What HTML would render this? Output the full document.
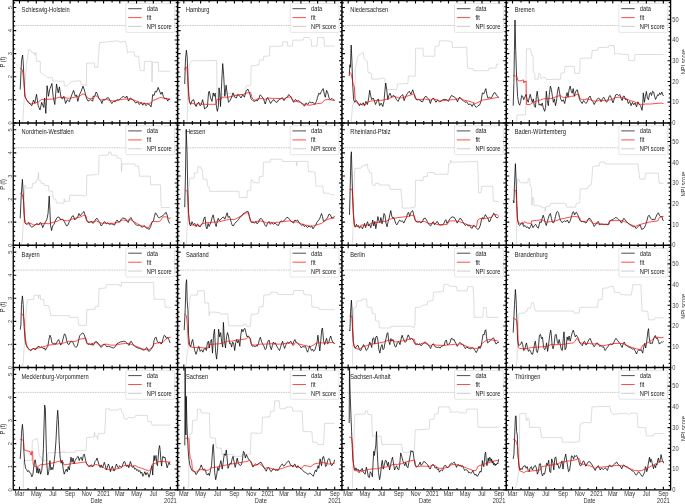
<!DOCTYPE html>
<html><head><meta charset="utf-8"><title>P(t) fits per state</title>
<style>html,body{margin:0;padding:0;background:#fff}svg{display:block}</style></head>
<body>
<svg width="685" height="504" viewBox="0 0 685 504">
<rect width="685" height="504" fill="#fff"/>
<clipPath id="c0"><rect x="13.2" y="0.6" width="164.3" height="122.3"/></clipPath>
<g clip-path="url(#c0)">
<line x1="13.2" x2="177.6" y1="25.5" y2="25.5" stroke="#999" stroke-width="0.5" stroke-dasharray="1.6,0.8"/>
<polyline points="22.7,122.2 26.3,65.6 28.7,49.4 30.9,50.2 32.1,52.8 34.3,52.8 34.8,55.4 36.0,52.8 36.5,61.3 40.3,61.3 40.3,72.4 44.6,75.0 47.1,77.5 52.6,77.9 52.6,80.9 64.2,81.3 64.2,85.7 66.8,86.1 69.3,83.5 71.9,81.3 80.4,80.9 81.2,84.7 86.4,85.2 86.7,63.0 92.9,63.0 93.0,63.0 94.7,63.0 94.7,67.3 97.8,67.3 98.5,56.2 99.5,42.6 105.8,42.1 111.8,41.4 118.6,40.9 119.5,42.1 125.4,41.4 126.6,45.1 127.6,52.8 129.7,51.6 131.4,52.3 133.9,51.6 134.8,56.2 138.7,56.2 139.4,65.6 140.4,70.7 144.2,70.7 144.5,61.3 151.9,61.3 152.0,81.8 152.4,62.2 158.3,62.2 158.7,71.2 170.1,71.2" fill="none" stroke="#c2c2c2" stroke-width="0.55" stroke-linejoin="round"/>
<polyline points="20.2,89.5 21.5,60.5 22.6,55.0 23.2,62.2 24.1,80.9 24.9,96.3 26.6,99.7 28.0,102.3 30.1,104.0 31.8,105.7 33.5,100.1 34.8,103.1 36.5,94.3 38.2,105.7 40.0,110.0 41.7,102.3 43.7,107.4 44.6,98.0 45.8,113.4 47.1,85.7 48.5,96.3 49.7,89.5 51.9,83.5 53.1,96.3 54.8,104.5 56.5,84.0 58.2,92.9 59.4,86.9 61.1,98.0 62.5,98.9 63.9,96.3 65.6,103.5 67.3,99.7 69.3,101.8 71.9,94.6 73.6,90.3 75.3,96.3 76.5,94.9 77.8,101.4 79.5,94.6 81.2,91.2 83.0,86.1 84.7,91.2 86.4,98.0 88.1,101.1 90.6,99.7 92.9,101.1 93.0,96.3 94.7,96.3 96.1,92.0 97.3,93.8 99.0,98.9 100.7,100.6 101.9,103.5 103.2,99.7 104.9,100.1 106.7,98.0 108.4,97.7 110.1,100.6 111.8,103.5 113.5,101.4 115.2,101.8 116.9,99.7 118.6,100.1 120.3,98.9 122.0,97.2 123.7,96.3 125.4,98.0 126.8,96.0 128.5,101.1 130.2,98.0 131.9,98.9 133.9,100.6 135.7,103.1 137.7,101.8 139.4,104.5 141.1,102.3 142.8,105.2 144.2,102.8 145.9,105.7 147.6,104.0 149.7,104.8 151.0,106.9 152.0,101.4 152.7,94.6 154.1,95.5 155.3,91.2 156.5,92.0 158.2,87.4 159.6,91.2 160.9,94.3 162.1,92.0 163.3,96.3 164.7,98.9 166.4,98.0 167.7,101.1 168.9,98.9 170.1,99.7" fill="none" stroke="#000" stroke-width="0.75" stroke-linejoin="round"/>
<polyline points="20.2,68.1 22.4,69.9 23.6,79.2 24.6,92.9 25.8,98.9 28.4,101.8 30.9,104.0 34.3,103.5 38.6,101.8 41.1,99.7 47.1,99.4 54.0,98.9 59.1,97.2 64.2,97.7 69.3,98.4 74.4,97.3 79.5,96.0 83.0,93.8 85.5,94.9 88.1,98.4 92.9,98.4 93.0,98.9 95.6,95.5 98.1,97.2 100.7,100.1 103.2,99.7 106.7,99.4 110.1,100.6 113.5,100.9 118.6,100.1 123.7,99.2 127.1,98.9 130.5,99.4 133.9,100.1 137.4,101.4 140.8,102.8 144.2,103.5 148.5,103.5 151.0,102.8 152.7,100.6 156.1,99.4 159.6,97.7 162.1,97.7 164.7,98.5 168.1,98.9 170.1,99.2" fill="none" stroke="#f00" stroke-width="0.7" stroke-linejoin="round"/>
<text transform="translate(21.6,12.0) scale(0.864,1)" font-size="6.6" fill="#1a1a1a" font-family="Liberation Sans, sans-serif">Schleswig-Holstein</text>
<rect x="125.8" y="3.5" width="48.8" height="28.9" rx="1.3" fill="#fff" fill-opacity="0.8" stroke="#ccc" stroke-width="0.5"/>
<line x1="128.2" x2="141.7" y1="8.7" y2="8.7" stroke="#000" stroke-width="0.7"/>
<text transform="translate(146.8,11.1) scale(0.864,1)" font-size="6.6" fill="#1a1a1a" font-family="Liberation Sans, sans-serif">data</text>
<line x1="128.2" x2="141.7" y1="17.6" y2="17.6" stroke="#f00" stroke-width="0.7"/>
<text transform="translate(146.8,20.0) scale(0.864,1)" font-size="6.6" fill="#1a1a1a" font-family="Liberation Sans, sans-serif">fit</text>
<line x1="128.2" x2="141.7" y1="26.5" y2="26.5" stroke="#bdbdbd" stroke-width="0.7"/>
<text transform="translate(146.8,28.9) scale(0.864,1)" font-size="6.6" fill="#1a1a1a" font-family="Liberation Sans, sans-serif">NPI score</text>
</g>
<clipPath id="c1"><rect x="177.6" y="0.6" width="164.3" height="122.3"/></clipPath>
<g clip-path="url(#c1)">
<line x1="177.6" x2="341.9" y1="25.5" y2="25.5" stroke="#999" stroke-width="0.5" stroke-dasharray="1.6,0.8"/>
<polyline points="187.2,122.2 187.6,91.2 189.3,64.7 191.5,60.8 216.6,60.5 217.1,98.9 221.7,98.9 221.7,94.3 233.3,93.2 235.0,94.9 245.3,94.3 246.1,86.1 250.7,85.2 251.2,65.6 256.9,65.6 257.0,64.8 259.0,64.5 259.4,60.1 263.5,60.1 263.8,56.3 269.3,56.0 269.8,46.4 282.3,46.1 282.6,41.8 287.4,41.8 287.7,46.1 292.5,46.1 292.8,40.1 303.1,40.1 303.9,37.5 309.0,37.5 311.3,40.1 311.6,46.1 317.1,46.1 317.6,37.5 323.9,37.5 324.4,46.1 334.6,46.1" fill="none" stroke="#c2c2c2" stroke-width="0.55" stroke-linejoin="round"/>
<polyline points="184.7,84.0 185.5,58.8 186.4,50.2 187.2,57.1 188.1,82.7 189.3,101.4 190.6,104.5 192.0,100.6 193.7,99.7 194.9,104.5 196.1,106.5 197.5,103.1 198.8,102.3 200.0,105.7 201.2,104.8 202.6,99.7 204.0,105.7 204.6,109.1 206.0,107.4 207.4,106.9 208.6,92.0 209.4,91.2 210.6,98.0 212.0,101.4 213.2,92.9 214.2,96.3 215.2,93.2 216.2,104.8 217.3,111.3 218.3,107.4 219.0,87.8 219.7,92.9 220.5,106.5 221.7,82.7 222.7,63.6 223.6,74.1 224.8,96.3 226.1,85.2 227.3,94.6 228.5,102.3 229.9,100.6 231.3,98.0 233.0,92.9 234.7,97.2 236.4,98.0 237.6,94.6 239.3,95.5 241.0,98.0 242.7,94.6 244.4,97.2 246.1,91.2 247.8,89.1 249.5,92.9 251.2,98.9 252.9,100.6 254.6,101.4 256.3,100.1 257.0,101.1 258.7,98.9 260.1,94.9 261.8,96.3 263.5,98.9 265.2,104.0 266.4,100.1 267.6,97.7 269.3,100.6 270.6,103.5 272.4,100.6 274.1,99.7 275.4,101.8 277.1,102.3 278.8,99.7 280.5,98.9 282.3,97.7 284.0,100.6 285.7,98.0 287.4,97.2 288.6,94.6 290.3,96.0 292.0,98.9 293.7,102.3 295.4,99.4 297.1,101.1 298.8,100.6 300.5,102.3 302.2,103.5 304.4,106.2 306.1,102.8 307.8,104.5 309.6,101.8 311.3,102.8 313.0,102.3 314.7,104.5 316.4,101.4 317.6,97.2 318.8,93.2 320.1,94.3 321.5,91.2 323.2,88.6 324.4,94.6 325.3,97.2 326.6,90.3 327.8,92.9 329.0,98.0 330.4,99.7 332.1,98.4 333.8,100.1 334.6,100.1" fill="none" stroke="#000" stroke-width="0.75" stroke-linejoin="round"/>
<polyline points="184.7,69.9 185.5,67.0 186.9,67.3 187.6,77.5 188.6,96.3 189.8,102.8 193.2,103.5 195.8,104.5 198.3,103.5 202.6,104.3 211.1,104.3 216.2,104.3 216.8,99.7 221.0,99.4 221.7,97.2 228.2,97.2 233.3,96.0 238.4,94.9 243.5,94.3 247.0,92.9 250.7,92.6 252.1,98.0 253.8,100.1 256.9,99.9 257.0,98.9 262.1,98.5 264.7,99.7 267.2,98.0 274.1,98.4 280.9,98.5 284.3,98.9 286.9,97.2 291.1,96.8 292.8,101.1 296.2,101.4 299.7,102.3 303.1,104.0 306.5,104.8 309.9,105.3 315.0,104.0 321.8,103.1 324.4,100.1 327.8,99.4 332.1,100.1 334.6,100.6" fill="none" stroke="#f00" stroke-width="0.7" stroke-linejoin="round"/>
<text transform="translate(186.0,12.0) scale(0.864,1)" font-size="6.6" fill="#1a1a1a" font-family="Liberation Sans, sans-serif">Hamburg</text>
<rect x="290.2" y="3.5" width="48.8" height="28.9" rx="1.3" fill="#fff" fill-opacity="0.8" stroke="#ccc" stroke-width="0.5"/>
<line x1="292.5" x2="306.0" y1="8.7" y2="8.7" stroke="#000" stroke-width="0.7"/>
<text transform="translate(311.1,11.1) scale(0.864,1)" font-size="6.6" fill="#1a1a1a" font-family="Liberation Sans, sans-serif">data</text>
<line x1="292.5" x2="306.0" y1="17.6" y2="17.6" stroke="#f00" stroke-width="0.7"/>
<text transform="translate(311.1,20.0) scale(0.864,1)" font-size="6.6" fill="#1a1a1a" font-family="Liberation Sans, sans-serif">fit</text>
<line x1="292.5" x2="306.0" y1="26.5" y2="26.5" stroke="#bdbdbd" stroke-width="0.7"/>
<text transform="translate(311.1,28.9) scale(0.864,1)" font-size="6.6" fill="#1a1a1a" font-family="Liberation Sans, sans-serif">NPI score</text>
</g>
<clipPath id="c2"><rect x="341.9" y="0.6" width="164.3" height="122.3"/></clipPath>
<g clip-path="url(#c2)">
<line x1="341.9" x2="506.3" y1="25.5" y2="25.5" stroke="#999" stroke-width="0.5" stroke-dasharray="1.6,0.8"/>
<polyline points="351.2,122.2 352.6,104.8 354.7,100.6 355.3,69.0 358.1,55.7 361.5,53.6 363.2,52.3 364.0,58.8 367.4,61.3 368.0,72.4 371.4,73.3 371.7,79.2 379.4,78.9 383.7,77.9 385.0,79.6 385.4,89.5 397.0,89.5 397.3,84.0 407.9,83.5 408.4,76.2 415.2,76.2 415.6,48.2 420.9,48.2 421.0,48.2 423.0,48.2 423.4,56.2 434.7,56.2 435.0,46.5 438.9,46.0 439.4,40.9 448.3,40.9 452.1,42.1 452.6,47.7 466.7,47.2 467.4,68.1 473.0,68.7 473.9,70.7 488.4,70.7 489.3,68.1 496.1,68.1 496.4,64.2 498.6,64.2" fill="none" stroke="#c2c2c2" stroke-width="0.55" stroke-linejoin="round"/>
<polyline points="349.2,75.8 349.9,64.7 350.4,67.3 351.2,45.1 351.9,60.5 352.6,82.7 353.6,99.7 354.7,102.3 356.4,100.6 358.1,103.1 359.4,105.7 360.6,103.5 361.8,104.8 363.2,102.8 364.5,105.7 365.9,101.4 367.4,104.5 368.6,98.9 369.7,90.3 370.7,95.5 371.7,99.7 373.1,98.0 374.3,100.6 375.5,104.5 376.8,101.4 378.2,98.9 379.6,105.7 381.1,103.1 382.8,106.5 384.0,101.4 385.0,89.5 385.7,83.0 386.7,89.5 387.8,99.7 388.8,95.5 390.1,93.2 391.5,97.2 393.0,95.5 394.7,96.3 396.5,99.7 398.2,101.4 399.9,97.2 401.6,95.5 402.8,94.6 404.1,100.6 405.8,96.3 407.5,93.2 409.3,91.2 411.0,94.3 412.7,89.8 414.0,93.8 415.2,98.0 416.9,100.1 418.6,99.4 420.9,100.6 421.0,101.4 422.7,101.8 424.1,98.0 425.8,96.0 427.5,98.0 429.2,99.7 430.4,103.5 431.6,99.7 433.3,98.0 434.7,100.1 436.0,102.3 437.7,99.7 439.4,101.8 441.1,101.1 442.8,99.7 444.9,99.4 446.6,99.7 448.3,101.4 450.0,98.0 451.4,95.5 453.1,96.3 454.8,97.2 456.2,98.9 457.5,101.8 458.9,98.0 459.9,97.2 461.6,99.4 463.3,100.6 465.0,102.3 466.7,101.8 468.4,104.5 470.5,104.0 472.2,106.5 473.6,103.5 474.9,105.7 476.3,107.4 478.0,105.7 479.7,104.8 481.1,101.1 482.4,92.9 483.8,93.8 484.8,91.2 485.8,88.6 486.9,94.6 487.9,98.4 489.3,97.2 491.0,98.4 492.3,96.3 493.7,93.2 495.1,92.6 496.4,94.9 497.8,96.6 498.6,97.7" fill="none" stroke="#000" stroke-width="0.75" stroke-linejoin="round"/>
<polyline points="349.2,71.6 350.9,73.3 352.1,78.4 353.3,84.4 354.3,86.4 355.0,98.0 356.0,101.4 358.1,104.0 361.5,104.8 365.7,104.8 368.3,101.8 370.9,101.1 375.1,100.6 383.7,100.1 387.9,98.9 392.2,97.2 394.7,96.3 398.2,98.0 402.4,97.7 406.7,96.3 411.0,94.9 413.5,93.8 414.7,94.9 416.1,98.9 418.6,99.7 420.9,99.7 421.0,99.7 424.4,98.9 427.8,99.7 430.4,100.1 432.9,98.9 436.4,99.7 439.8,101.1 443.2,100.6 448.3,100.1 453.4,99.7 457.7,98.9 460.2,98.4 463.7,100.1 467.9,100.9 472.2,102.3 475.6,103.5 479.0,101.8 482.4,100.1 487.5,99.4 492.7,98.4 496.1,97.7 498.6,97.2" fill="none" stroke="#f00" stroke-width="0.7" stroke-linejoin="round"/>
<text transform="translate(350.3,12.0) scale(0.864,1)" font-size="6.6" fill="#1a1a1a" font-family="Liberation Sans, sans-serif">Niedersachsen</text>
<rect x="454.5" y="3.5" width="48.8" height="28.9" rx="1.3" fill="#fff" fill-opacity="0.8" stroke="#ccc" stroke-width="0.5"/>
<line x1="456.8" x2="470.3" y1="8.7" y2="8.7" stroke="#000" stroke-width="0.7"/>
<text transform="translate(475.4,11.1) scale(0.864,1)" font-size="6.6" fill="#1a1a1a" font-family="Liberation Sans, sans-serif">data</text>
<line x1="456.8" x2="470.3" y1="17.6" y2="17.6" stroke="#f00" stroke-width="0.7"/>
<text transform="translate(475.4,20.0) scale(0.864,1)" font-size="6.6" fill="#1a1a1a" font-family="Liberation Sans, sans-serif">fit</text>
<line x1="456.8" x2="470.3" y1="26.5" y2="26.5" stroke="#bdbdbd" stroke-width="0.7"/>
<text transform="translate(475.4,28.9) scale(0.864,1)" font-size="6.6" fill="#1a1a1a" font-family="Liberation Sans, sans-serif">NPI score</text>
</g>
<clipPath id="c3"><rect x="506.3" y="0.6" width="164.3" height="122.3"/></clipPath>
<g clip-path="url(#c3)">
<line x1="506.3" x2="670.6" y1="25.5" y2="25.5" stroke="#999" stroke-width="0.5" stroke-dasharray="1.6,0.8"/>
<polyline points="516.6,122.2 517.1,115.1 525.6,114.7 526.5,48.9 530.7,48.9 531.6,55.0 533.0,55.4 533.3,72.4 534.7,73.3 535.0,79.2 538.1,79.2 538.8,73.3 540.1,73.8 541.0,78.9 542.7,77.2 545.6,77.5 546.6,79.6 560.6,79.2 560.9,73.3 564.4,72.8 564.9,66.4 574.3,66.4 574.6,73.3 579.7,73.3 580.2,58.4 585.9,58.1 586.0,58.1 591.6,58.1 592.1,50.6 597.9,50.2 598.3,47.7 608.5,47.2 609.0,45.5 614.2,45.5 614.7,54.0 619.3,53.6 622.7,54.5 628.3,54.5 628.7,60.5 634.6,60.5 635.1,54.5 663.6,54.5" fill="none" stroke="#c2c2c2" stroke-width="0.55" stroke-linejoin="round"/>
<polyline points="513.2,105.7 513.9,82.7 514.4,50.2 515.0,20.0 515.7,50.2 516.6,77.5 517.6,96.3 518.6,103.1 519.7,105.2 520.7,101.4 521.7,95.5 522.7,96.3 523.7,99.7 524.8,97.2 526.1,94.3 527.2,99.7 528.2,102.3 529.2,98.0 530.2,94.3 531.3,98.9 532.3,102.3 533.3,98.9 534.3,105.7 535.4,107.4 536.4,96.3 537.2,91.2 538.1,98.0 539.1,105.2 540.1,104.0 541.2,105.7 542.2,103.1 543.2,107.4 544.6,111.3 545.6,107.4 546.3,91.2 547.3,100.6 548.3,105.7 549.3,94.6 550.4,86.1 551.4,89.5 552.4,96.3 553.4,102.3 554.5,98.9 555.5,105.7 556.5,101.4 557.5,91.2 558.6,86.9 559.6,92.9 560.6,98.9 562.0,101.4 563.3,99.7 564.7,103.5 566.1,96.3 567.1,92.6 568.1,97.2 569.1,89.5 570.2,86.1 571.2,91.2 572.2,93.2 573.2,88.6 574.3,96.3 575.3,92.9 576.3,90.3 577.3,89.8 578.4,94.6 579.4,98.9 580.7,101.4 582.1,103.5 583.5,100.6 584.8,102.3 586.0,103.5 587.4,101.4 588.7,97.7 590.1,96.0 591.5,100.1 592.8,101.4 594.2,104.5 595.6,101.8 596.9,99.7 598.3,98.0 599.7,98.9 601.0,101.8 602.4,98.9 603.7,97.2 605.1,99.7 606.5,102.3 607.8,100.6 609.2,96.3 610.2,95.5 611.6,98.9 613.0,102.8 614.3,98.9 615.7,94.9 617.1,94.3 618.4,95.5 619.8,94.6 621.2,98.9 622.2,100.6 623.2,96.3 624.2,96.0 625.6,99.7 627.0,98.9 628.3,103.5 629.7,101.4 631.1,105.7 632.4,102.3 633.8,104.8 635.1,102.8 636.5,106.9 637.9,101.8 639.2,104.5 640.6,105.7 642.0,110.3 642.7,104.8 643.3,92.9 644.4,102.3 645.4,96.3 646.4,91.5 647.4,98.0 648.5,99.7 649.5,93.8 650.5,92.6 651.5,95.5 652.6,91.2 653.6,92.0 654.6,96.3 655.6,99.4 656.6,97.2 657.7,94.6 658.7,95.5 659.7,92.9 660.7,94.6 661.8,92.0 662.8,94.9 663.6,96.0" fill="none" stroke="#000" stroke-width="0.75" stroke-linejoin="round"/>
<polyline points="513.2,75.0 515.4,76.2 517.1,76.7 517.6,80.1 519.7,80.9 522.2,80.6 523.1,79.6 523.9,83.0 524.4,80.9 525.1,81.8 526.1,80.9 526.5,104.5 529.9,104.5 533.3,102.3 536.7,101.1 540.1,100.1 543.5,98.9 547.0,98.4 552.1,98.4 557.2,96.3 560.6,95.5 563.2,97.7 567.4,97.2 571.7,96.3 574.3,96.0 576.8,94.3 579.0,94.6 580.2,98.9 582.8,99.7 585.9,99.7 586.0,98.9 589.4,99.4 592.8,100.6 596.2,101.4 599.7,100.1 603.1,100.6 608.2,100.1 611.6,99.7 615.0,97.7 619.3,97.2 622.7,98.0 626.1,98.9 630.4,100.6 634.6,101.8 638.9,104.0 642.3,104.5 645.7,104.0 650.8,104.0 656.0,103.5 661.1,103.1 663.6,103.5" fill="none" stroke="#f00" stroke-width="0.7" stroke-linejoin="round"/>
<text transform="translate(514.7,12.0) scale(0.864,1)" font-size="6.6" fill="#1a1a1a" font-family="Liberation Sans, sans-serif">Bremen</text>
<rect x="618.9" y="3.5" width="48.8" height="28.9" rx="1.3" fill="#fff" fill-opacity="0.8" stroke="#ccc" stroke-width="0.5"/>
<line x1="621.2" x2="634.7" y1="8.7" y2="8.7" stroke="#000" stroke-width="0.7"/>
<text transform="translate(639.8,11.1) scale(0.864,1)" font-size="6.6" fill="#1a1a1a" font-family="Liberation Sans, sans-serif">data</text>
<line x1="621.2" x2="634.7" y1="17.6" y2="17.6" stroke="#f00" stroke-width="0.7"/>
<text transform="translate(639.8,20.0) scale(0.864,1)" font-size="6.6" fill="#1a1a1a" font-family="Liberation Sans, sans-serif">fit</text>
<line x1="621.2" x2="634.7" y1="26.5" y2="26.5" stroke="#bdbdbd" stroke-width="0.7"/>
<text transform="translate(639.8,28.9) scale(0.864,1)" font-size="6.6" fill="#1a1a1a" font-family="Liberation Sans, sans-serif">NPI score</text>
</g>
<clipPath id="c4"><rect x="13.2" y="122.9" width="164.3" height="122.3"/></clipPath>
<g clip-path="url(#c4)">
<line x1="13.2" x2="177.6" y1="147.8" y2="147.8" stroke="#999" stroke-width="0.5" stroke-dasharray="1.6,0.8"/>
<polyline points="21.2,244.2 22.4,240.5 23.6,213.2 24.9,185.0 25.8,187.9 32.1,187.9 32.6,183.3 36.0,182.8 36.5,179.9 38.1,179.1 38.4,172.6 38.8,180.4 40.6,180.8 41.1,183.3 44.1,183.8 44.6,185.5 48.5,185.5 48.8,191.0 52.6,191.3 53.1,198.7 55.7,199.2 56.5,202.9 63.9,203.3 64.2,198.7 65.0,201.6 69.3,201.2 69.7,195.3 82.1,195.3 83.8,196.1 86.4,195.3 86.9,175.3 92.9,174.8 93.0,175.0 98.6,174.2 99.1,155.4 108.4,155.1 108.9,152.0 110.9,152.0 111.4,155.1 116.9,155.4 117.2,158.0 121.2,158.5 121.5,171.6 122.0,163.9 134.8,163.9 135.3,166.0 138.7,166.0 139.4,176.2 150.2,176.2 150.7,184.8 160.4,184.8 161.2,207.5 170.1,207.5" fill="none" stroke="#c2c2c2" stroke-width="0.55" stroke-linejoin="round"/>
<polyline points="20.2,218.3 21.2,196.1 22.4,179.4 23.2,192.7 24.1,213.2 24.9,222.6 26.3,224.3 27.7,223.1 29.0,222.6 30.4,226.0 31.8,227.2 33.1,226.5 34.5,225.5 35.9,224.3 37.2,223.4 38.6,225.1 40.0,222.6 41.3,223.1 42.7,227.7 44.1,224.3 45.4,222.1 46.8,219.7 48.1,213.2 49.2,196.1 49.9,209.8 50.5,225.1 51.6,230.6 52.6,226.0 54.0,224.3 55.3,220.9 56.7,218.0 58.0,216.9 59.4,217.5 60.8,220.0 62.5,219.2 63.9,220.9 65.2,223.4 66.6,226.0 67.9,225.1 69.3,221.7 70.7,219.2 72.0,216.3 73.4,215.8 74.8,220.0 76.1,218.3 77.5,217.5 78.9,213.5 80.2,215.8 81.6,214.0 83.0,212.3 84.0,211.5 85.0,214.9 86.4,220.0 87.7,222.1 89.1,222.6 90.5,221.7 91.8,221.4 93.0,223.4 94.4,221.7 95.7,219.2 97.1,218.3 98.5,220.9 99.8,222.6 101.2,226.0 102.6,224.3 103.9,222.1 104.9,221.7 106.3,223.8 107.7,223.1 109.4,224.3 111.1,223.8 112.8,224.3 114.5,225.1 115.9,221.7 117.2,220.0 118.6,222.1 120.0,221.7 121.3,219.2 122.7,218.0 124.1,218.3 125.4,218.6 126.8,220.9 128.2,222.6 129.5,219.2 130.9,217.5 132.2,220.0 133.6,221.7 135.0,223.8 136.3,224.8 137.7,225.5 139.1,224.8 140.8,226.5 142.5,227.2 144.2,225.5 145.9,227.7 147.6,228.6 149.3,229.4 150.7,226.5 152.0,221.7 153.4,220.9 154.4,216.6 155.4,212.8 156.5,214.0 157.8,216.6 159.2,218.0 160.6,216.9 161.9,216.3 163.3,215.2 164.7,214.0 166.0,212.3 167.1,214.9 168.1,220.0 169.1,222.6 170.1,223.4" fill="none" stroke="#000" stroke-width="0.75" stroke-linejoin="round"/>
<polyline points="20.2,193.1 22.4,194.8 23.6,201.2 24.6,218.3 25.3,223.4 27.5,224.3 30.1,223.1 33.5,224.8 38.6,224.3 43.7,223.4 48.8,223.8 54.0,222.1 58.2,220.9 60.8,219.2 64.2,220.4 67.6,220.9 71.9,219.2 76.1,218.0 80.4,216.9 83.8,215.2 86.0,215.8 87.2,221.4 89.8,222.1 92.9,222.1 93.0,221.7 96.4,220.9 99.8,222.6 102.4,223.4 104.9,223.1 110.1,223.4 115.2,223.1 119.5,221.7 122.0,220.0 127.1,220.4 130.5,219.7 133.9,221.7 137.4,223.8 140.8,225.5 144.2,226.5 148.5,227.7 151.0,223.4 153.6,221.4 157.8,221.7 160.4,220.9 163.0,216.9 166.4,216.9 168.9,218.3 170.6,218.0" fill="none" stroke="#f00" stroke-width="0.7" stroke-linejoin="round"/>
<text transform="translate(21.6,134.3) scale(0.864,1)" font-size="6.6" fill="#1a1a1a" font-family="Liberation Sans, sans-serif">Nordrhein-Westfalen</text>
<rect x="125.8" y="125.8" width="48.8" height="28.9" rx="1.3" fill="#fff" fill-opacity="0.8" stroke="#ccc" stroke-width="0.5"/>
<line x1="128.2" x2="141.7" y1="130.9" y2="130.9" stroke="#000" stroke-width="0.7"/>
<text transform="translate(146.8,133.3) scale(0.864,1)" font-size="6.6" fill="#1a1a1a" font-family="Liberation Sans, sans-serif">data</text>
<line x1="128.2" x2="141.7" y1="139.9" y2="139.9" stroke="#f00" stroke-width="0.7"/>
<text transform="translate(146.8,142.3) scale(0.864,1)" font-size="6.6" fill="#1a1a1a" font-family="Liberation Sans, sans-serif">fit</text>
<line x1="128.2" x2="141.7" y1="148.8" y2="148.8" stroke="#bdbdbd" stroke-width="0.7"/>
<text transform="translate(146.8,151.2) scale(0.864,1)" font-size="6.6" fill="#1a1a1a" font-family="Liberation Sans, sans-serif">NPI score</text>
</g>
<clipPath id="c5"><rect x="177.6" y="122.9" width="164.3" height="122.3"/></clipPath>
<g clip-path="url(#c5)">
<line x1="177.6" x2="341.9" y1="147.8" y2="147.8" stroke="#999" stroke-width="0.5" stroke-dasharray="1.6,0.8"/>
<polyline points="186.4,244.2 187.6,218.3 188.9,187.6 189.8,178.2 194.1,178.2 194.4,173.1 197.5,172.6 197.8,166.8 200.9,166.8 201.4,169.7 202.6,170.2 202.9,179.1 206.9,179.4 207.7,185.9 209.1,187.6 209.8,191.3 238.8,191.3 239.3,197.5 247.0,197.5 247.3,190.7 250.7,190.1 251.2,179.9 252.9,180.4 253.4,182.8 256.9,182.5 257.0,183.1 259.0,182.7 259.4,176.8 263.1,176.2 263.5,162.2 270.3,161.9 270.6,159.2 281.7,159.2 282.3,161.4 296.2,161.4 296.6,165.7 297.3,161.4 307.8,161.4 308.5,171.6 315.0,172.1 315.9,186.1 322.7,186.1 323.5,193.0 328.7,193.3 330.4,194.3 334.6,195.0" fill="none" stroke="#c2c2c2" stroke-width="0.55" stroke-linejoin="round"/>
<polyline points="184.7,207.2 185.4,179.1 186.2,129.6 187.1,153.5 187.7,187.6 188.6,213.2 189.6,224.3 190.6,226.0 192.0,221.7 193.4,224.8 194.7,223.4 196.1,226.5 197.5,223.8 198.8,226.0 200.2,226.8 201.6,224.3 202.9,222.6 204.0,218.3 205.0,216.9 206.0,226.8 207.0,228.9 208.1,223.4 209.1,226.5 210.1,224.3 211.1,221.7 212.1,217.5 213.2,214.9 214.2,220.0 215.2,223.4 216.2,226.5 217.3,220.9 218.3,218.3 219.3,220.9 220.7,219.2 222.0,218.0 223.4,216.9 224.8,219.2 226.1,215.8 227.2,212.8 228.2,217.5 229.2,216.3 230.2,218.3 231.3,222.6 232.3,225.5 233.3,226.0 234.7,223.4 236.0,222.1 237.4,220.9 238.8,219.2 240.1,216.9 241.5,216.3 242.9,214.0 244.2,213.2 245.6,212.3 247.0,211.5 248.3,211.8 249.3,216.6 250.4,220.9 251.7,222.6 253.1,222.1 254.5,223.1 255.8,221.4 257.0,223.8 258.4,222.6 259.7,219.2 261.1,218.3 262.5,220.0 263.8,222.6 265.2,225.5 266.2,226.5 267.6,223.4 268.9,221.7 270.3,224.3 271.7,222.6 273.4,224.3 275.1,223.1 276.8,224.8 278.5,225.5 279.9,222.1 281.2,220.9 282.6,221.7 284.0,220.9 285.3,219.2 286.7,217.5 288.1,217.5 289.4,219.2 290.8,220.9 292.1,222.1 293.5,223.1 294.9,220.0 296.2,220.9 297.6,220.0 299.0,222.6 300.3,223.8 301.7,225.5 303.1,224.3 304.4,226.5 305.8,225.5 307.5,227.7 308.9,226.0 310.2,227.2 311.6,226.0 313.0,228.9 314.3,226.8 315.7,225.5 316.7,222.6 318.1,220.9 319.4,219.2 320.5,216.6 321.5,213.5 322.5,216.6 323.5,221.7 324.9,220.9 326.3,219.2 327.6,217.5 329.0,214.0 330.4,214.9 331.7,218.0 333.1,217.5 334.6,216.3" fill="none" stroke="#000" stroke-width="0.75" stroke-linejoin="round"/>
<polyline points="185.2,190.1 187.2,191.0 187.7,197.8 188.4,213.2 189.3,221.7 191.5,224.8 194.9,225.5 199.2,226.0 202.6,223.8 206.9,222.6 212.8,222.2 219.7,221.7 224.8,220.4 229.9,219.2 234.2,219.7 238.4,217.5 242.7,214.9 246.1,212.8 248.7,213.2 250.0,218.3 251.2,221.7 253.8,222.1 256.9,221.7 257.0,221.4 260.4,220.9 263.8,221.7 266.4,223.1 268.9,222.1 274.1,222.6 279.2,222.1 284.3,221.4 289.4,220.9 293.7,221.7 297.1,222.1 301.4,223.8 305.6,225.1 309.9,226.0 313.3,226.0 316.7,224.8 321.8,223.4 324.4,220.9 327.8,219.2 332.1,218.3 334.6,218.0" fill="none" stroke="#f00" stroke-width="0.7" stroke-linejoin="round"/>
<text transform="translate(186.0,134.3) scale(0.864,1)" font-size="6.6" fill="#1a1a1a" font-family="Liberation Sans, sans-serif">Hessen</text>
<rect x="290.2" y="125.8" width="48.8" height="28.9" rx="1.3" fill="#fff" fill-opacity="0.8" stroke="#ccc" stroke-width="0.5"/>
<line x1="292.5" x2="306.0" y1="130.9" y2="130.9" stroke="#000" stroke-width="0.7"/>
<text transform="translate(311.1,133.3) scale(0.864,1)" font-size="6.6" fill="#1a1a1a" font-family="Liberation Sans, sans-serif">data</text>
<line x1="292.5" x2="306.0" y1="139.9" y2="139.9" stroke="#f00" stroke-width="0.7"/>
<text transform="translate(311.1,142.3) scale(0.864,1)" font-size="6.6" fill="#1a1a1a" font-family="Liberation Sans, sans-serif">fit</text>
<line x1="292.5" x2="306.0" y1="148.8" y2="148.8" stroke="#bdbdbd" stroke-width="0.7"/>
<text transform="translate(311.1,151.2) scale(0.864,1)" font-size="6.6" fill="#1a1a1a" font-family="Liberation Sans, sans-serif">NPI score</text>
</g>
<clipPath id="c6"><rect x="341.9" y="122.9" width="164.3" height="122.3"/></clipPath>
<g clip-path="url(#c6)">
<line x1="341.9" x2="506.3" y1="147.8" y2="147.8" stroke="#999" stroke-width="0.5" stroke-dasharray="1.6,0.8"/>
<polyline points="352.1,244.2 352.9,233.7 353.8,196.1 354.7,168.5 361.5,168.0 362.3,165.8 365.7,165.4 366.3,164.0 367.4,164.0 368.0,169.7 369.2,170.2 369.7,172.6 371.7,172.6 372.2,185.0 375.1,185.5 375.6,183.3 378.9,183.3 379.4,185.0 389.6,185.0 390.1,189.3 400.7,189.3 401.6,195.3 402.4,208.1 409.3,208.1 414.4,207.2 415.2,206.7 415.6,180.4 420.9,180.1 421.0,181.0 423.0,180.7 423.4,176.8 427.5,176.2 427.8,172.5 434.3,172.5 434.7,174.2 448.0,174.2 448.6,163.9 450.3,163.6 450.7,160.2 451.4,162.2 463.7,161.9 477.3,161.4 478.2,174.2 478.5,192.6 481.1,192.6 481.7,186.5 492.7,186.1 493.3,201.1 498.6,201.5" fill="none" stroke="#c2c2c2" stroke-width="0.55" stroke-linejoin="round"/>
<polyline points="349.5,214.9 350.2,187.6 350.9,156.9 351.4,151.8 351.9,170.5 352.6,196.1 353.3,213.2 354.3,225.1 355.3,227.2 356.4,224.3 357.4,226.5 358.4,225.5 359.4,228.2 360.5,226.0 361.5,226.8 362.5,228.9 363.5,226.0 364.5,223.4 365.6,227.7 366.6,223.8 367.6,221.7 368.6,226.0 369.7,224.3 370.7,227.7 371.7,225.1 372.7,220.0 373.8,226.0 374.8,221.4 375.8,228.6 376.8,223.4 377.9,216.6 378.9,220.9 379.9,222.6 380.9,217.5 382.0,223.8 383.0,220.0 384.0,213.5 385.0,215.2 386.0,223.4 387.1,226.8 388.1,221.7 389.1,218.3 390.1,213.5 390.8,210.6 391.8,216.3 392.9,218.3 393.9,217.5 394.9,220.9 395.9,223.8 397.0,224.8 398.3,222.1 399.7,220.0 401.1,221.4 402.4,220.9 403.8,223.1 405.2,220.0 406.5,217.5 407.5,213.5 408.6,212.3 409.6,216.3 410.6,213.2 411.6,211.5 412.7,210.6 413.7,214.9 414.7,219.2 416.1,221.7 417.8,222.1 419.5,221.7 421.0,223.1 422.4,221.7 423.7,218.6 425.1,218.0 426.5,220.0 427.8,222.6 429.2,224.8 430.6,226.0 431.9,223.1 433.3,221.7 434.7,224.8 436.0,222.6 437.4,221.4 438.7,224.3 440.1,225.1 441.8,224.8 443.5,224.3 444.9,220.9 445.9,219.7 446.9,223.4 448.3,221.4 449.7,219.2 451.0,217.5 452.7,216.9 454.4,217.5 455.8,220.0 457.2,223.1 458.5,220.9 459.9,218.3 461.3,219.2 462.6,221.4 464.0,223.8 465.4,225.5 466.7,224.3 468.1,226.0 469.5,225.1 470.8,227.7 472.2,228.2 473.6,225.1 474.9,226.5 476.3,227.7 477.7,229.4 479.0,228.6 480.4,225.1 481.4,220.0 482.4,217.5 483.5,219.2 484.5,216.3 485.5,214.6 486.5,216.9 487.9,218.0 488.9,221.7 489.9,221.4 491.0,218.3 492.3,216.3 493.7,213.2 494.7,214.0 495.7,216.9 497.1,218.0 498.6,216.6" fill="none" stroke="#000" stroke-width="0.75" stroke-linejoin="round"/>
<polyline points="349.5,189.0 352.1,189.3 352.9,201.2 353.8,218.3 354.7,226.5 357.2,226.0 359.8,227.7 361.5,224.8 364.9,225.5 368.3,224.8 371.7,223.1 376.8,222.6 382.0,221.7 386.2,221.4 389.6,219.2 393.9,218.3 399.0,217.5 404.1,216.9 408.4,216.6 411.8,215.2 414.4,215.8 415.6,220.9 418.6,221.7 420.9,221.7 421.0,221.7 424.4,221.4 427.8,223.1 431.2,223.8 434.7,223.4 438.1,224.8 443.2,224.8 447.4,224.3 449.2,220.9 455.1,220.9 459.4,221.7 463.7,223.1 467.9,224.8 472.2,226.0 476.5,226.5 477.7,220.0 479.9,218.6 485.8,218.3 491.0,217.5 493.5,214.6 496.9,214.6 498.6,215.8" fill="none" stroke="#f00" stroke-width="0.7" stroke-linejoin="round"/>
<text transform="translate(350.3,134.3) scale(0.864,1)" font-size="6.6" fill="#1a1a1a" font-family="Liberation Sans, sans-serif">Rheinland-Pfalz</text>
<rect x="454.5" y="125.8" width="48.8" height="28.9" rx="1.3" fill="#fff" fill-opacity="0.8" stroke="#ccc" stroke-width="0.5"/>
<line x1="456.8" x2="470.3" y1="130.9" y2="130.9" stroke="#000" stroke-width="0.7"/>
<text transform="translate(475.4,133.3) scale(0.864,1)" font-size="6.6" fill="#1a1a1a" font-family="Liberation Sans, sans-serif">data</text>
<line x1="456.8" x2="470.3" y1="139.9" y2="139.9" stroke="#f00" stroke-width="0.7"/>
<text transform="translate(475.4,142.3) scale(0.864,1)" font-size="6.6" fill="#1a1a1a" font-family="Liberation Sans, sans-serif">fit</text>
<line x1="456.8" x2="470.3" y1="148.8" y2="148.8" stroke="#bdbdbd" stroke-width="0.7"/>
<text transform="translate(475.4,151.2) scale(0.864,1)" font-size="6.6" fill="#1a1a1a" font-family="Liberation Sans, sans-serif">NPI score</text>
</g>
<clipPath id="c7"><rect x="506.3" y="122.9" width="164.3" height="122.3"/></clipPath>
<g clip-path="url(#c7)">
<line x1="506.3" x2="670.6" y1="147.8" y2="147.8" stroke="#999" stroke-width="0.5" stroke-dasharray="1.6,0.8"/>
<polyline points="516.6,244.2 516.6,187.6 517.6,179.1 518.8,179.1 519.7,182.1 521.4,182.8 527.8,182.8 528.2,178.7 529.6,178.7 530.2,186.7 531.6,187.6 531.9,205.5 532.5,197.5 533.6,197.8 534.2,205.5 541.0,206.0 541.8,207.7 544.9,207.7 545.2,211.5 545.8,206.7 550.0,206.0 550.7,203.3 565.7,203.3 566.6,207.2 575.6,207.2 576.3,203.3 579.7,202.9 580.2,189.0 585.9,188.6 586.0,189.0 587.7,188.4 588.4,185.9 591.1,185.0 591.8,179.1 592.8,166.3 599.3,165.8 600.0,162.0 604.4,162.0 605.1,164.0 638.0,164.0 638.9,172.2 639.8,179.1 644.9,179.1 645.4,173.1 658.5,173.1 659.0,183.3 663.6,183.3" fill="none" stroke="#c2c2c2" stroke-width="0.55" stroke-linejoin="round"/>
<polyline points="513.2,200.4 513.9,202.9 514.5,184.2 515.4,163.7 516.1,179.1 516.8,204.7 517.6,220.0 518.6,224.3 519.7,225.5 521.0,223.4 522.4,222.6 523.7,226.5 525.1,225.5 526.5,227.7 527.8,226.8 529.2,228.9 530.6,226.5 531.6,223.8 533.0,227.7 534.3,225.5 535.7,224.3 537.1,227.2 538.4,228.2 539.8,221.7 541.2,222.6 542.2,218.3 543.2,215.2 544.2,218.3 545.2,222.6 546.3,225.5 547.3,221.7 548.3,218.3 549.3,214.9 550.4,213.5 551.4,218.3 552.4,222.1 553.4,223.1 554.5,220.9 555.5,216.6 556.5,212.3 557.5,211.5 558.6,213.2 559.6,217.5 560.6,220.4 562.0,222.6 563.3,221.7 564.7,220.9 566.1,221.7 567.4,220.0 568.8,223.1 570.2,220.9 571.5,216.6 572.6,212.3 573.6,211.8 574.6,214.9 575.6,212.8 576.6,212.3 577.7,214.6 578.7,217.5 579.7,220.0 581.1,221.7 582.8,221.4 584.5,222.1 586.0,223.1 587.4,220.9 588.7,218.3 590.1,218.6 591.5,220.9 592.8,223.1 594.2,226.5 595.6,224.8 596.9,222.6 598.3,221.4 599.7,224.8 601.0,223.8 602.7,224.3 604.4,224.4 606.1,224.3 608.2,224.8 609.6,220.9 611.3,220.0 613.0,219.7 614.7,218.0 616.0,217.5 617.4,218.3 618.8,219.7 620.1,220.9 621.5,223.1 622.9,220.0 623.9,218.3 625.2,220.0 626.6,221.7 628.0,223.1 629.3,224.3 630.7,225.1 632.1,226.0 633.4,226.8 634.8,226.5 636.2,228.6 637.5,227.2 638.9,225.5 640.3,225.1 641.6,229.4 643.0,228.9 644.4,227.7 645.7,224.8 647.1,220.0 648.1,216.3 649.1,215.2 650.5,218.0 651.9,219.7 653.2,219.2 654.6,220.0 656.0,216.9 657.3,214.0 658.4,212.8 659.4,215.2 660.7,216.9 661.8,216.3 662.8,220.0 663.6,220.9" fill="none" stroke="#000" stroke-width="0.75" stroke-linejoin="round"/>
<polyline points="513.7,190.1 515.9,190.7 516.6,201.2 517.3,218.3 518.3,222.6 520.5,223.4 523.1,224.3 524.4,221.7 527.3,223.1 531.3,223.4 531.6,220.9 536.7,220.4 541.8,219.7 546.1,222.1 550.4,221.7 555.5,220.9 560.6,219.2 565.7,218.0 570.8,216.9 574.3,216.3 577.7,216.9 579.7,217.5 580.7,220.9 583.6,221.7 585.9,221.4 586.0,221.4 588.6,219.2 591.1,221.7 593.7,223.8 596.2,223.1 599.7,224.3 604.8,224.3 609.0,224.3 609.9,220.9 615.0,220.4 620.1,220.4 624.4,221.4 627.8,223.1 631.2,224.8 635.5,226.5 638.9,224.8 644.0,223.4 649.1,222.1 654.3,221.4 657.7,220.9 659.4,217.5 661.9,216.6 663.6,216.3" fill="none" stroke="#f00" stroke-width="0.7" stroke-linejoin="round"/>
<text transform="translate(514.7,134.3) scale(0.864,1)" font-size="6.6" fill="#1a1a1a" font-family="Liberation Sans, sans-serif">Baden-Württemberg</text>
<rect x="618.9" y="125.8" width="48.8" height="28.9" rx="1.3" fill="#fff" fill-opacity="0.8" stroke="#ccc" stroke-width="0.5"/>
<line x1="621.2" x2="634.7" y1="130.9" y2="130.9" stroke="#000" stroke-width="0.7"/>
<text transform="translate(639.8,133.3) scale(0.864,1)" font-size="6.6" fill="#1a1a1a" font-family="Liberation Sans, sans-serif">data</text>
<line x1="621.2" x2="634.7" y1="139.9" y2="139.9" stroke="#f00" stroke-width="0.7"/>
<text transform="translate(639.8,142.3) scale(0.864,1)" font-size="6.6" fill="#1a1a1a" font-family="Liberation Sans, sans-serif">fit</text>
<line x1="621.2" x2="634.7" y1="148.8" y2="148.8" stroke="#bdbdbd" stroke-width="0.7"/>
<text transform="translate(639.8,151.2) scale(0.864,1)" font-size="6.6" fill="#1a1a1a" font-family="Liberation Sans, sans-serif">NPI score</text>
</g>
<clipPath id="c8"><rect x="13.2" y="245.2" width="164.3" height="122.3"/></clipPath>
<g clip-path="url(#c8)">
<line x1="13.2" x2="177.6" y1="270.1" y2="270.1" stroke="#999" stroke-width="0.5" stroke-dasharray="1.6,0.8"/>
<polyline points="20.7,366.2 22.9,365.6 24.1,348.8 25.3,326.7 26.3,309.6 27.5,299.7 33.8,299.4 34.3,295.1 38.2,295.1 38.6,298.5 38.9,295.1 40.3,295.1 40.6,299.4 43.7,299.7 44.2,305.3 48.5,305.8 49.2,308.7 50.2,311.3 50.5,315.6 69.3,315.6 69.8,317.3 77.5,317.3 78.2,319.5 78.7,325.3 86.4,325.3 86.9,309.6 92.9,309.2 93.0,309.5 95.0,309.0 95.4,306.8 98.6,306.4 99.1,288.5 105.8,288.0 106.3,284.6 119.5,284.6 120.0,286.3 121.2,286.3 121.5,282.5 153.6,282.5 154.1,299.3 164.7,299.3 165.3,307.3 170.6,307.3" fill="none" stroke="#c2c2c2" stroke-width="0.55" stroke-linejoin="round"/>
<polyline points="20.2,329.7 20.9,324.9 21.5,304.5 22.4,295.9 23.2,304.5 24.1,326.7 25.3,341.2 26.6,346.3 28.0,348.5 29.4,349.7 30.8,350.5 32.1,349.7 33.5,348.0 34.8,349.7 36.2,349.2 37.6,346.8 38.9,346.3 40.3,347.5 41.7,346.8 43.0,348.5 44.4,348.0 45.4,350.2 46.8,347.5 47.8,346.3 48.8,340.3 49.9,335.2 50.9,337.2 51.9,342.9 53.3,343.7 54.6,343.4 56.0,344.1 57.4,341.2 58.7,339.5 59.8,342.9 60.8,345.1 62.1,342.9 63.5,336.9 64.5,333.8 65.6,335.2 66.6,340.3 67.6,343.7 69.0,344.6 70.3,342.0 71.7,341.2 73.1,342.9 74.4,345.8 75.8,347.5 77.2,346.3 78.5,341.2 79.5,336.0 80.9,334.3 82.3,333.1 83.6,333.5 84.7,336.0 85.7,339.5 86.7,342.9 88.1,344.6 89.4,343.7 90.8,345.1 92.2,343.4 93.0,345.4 94.4,343.7 95.7,341.7 97.1,342.0 98.5,343.7 99.8,345.8 101.2,347.5 102.6,345.8 103.9,344.1 105.3,344.6 106.7,346.8 108.4,346.3 110.1,346.8 111.8,347.5 113.5,348.0 115.2,346.8 116.9,343.7 118.6,342.9 120.3,342.0 122.0,341.7 123.7,341.2 125.4,341.7 126.8,342.9 128.2,344.6 129.2,345.4 130.2,342.0 131.2,341.2 132.6,343.7 133.9,345.4 135.3,346.8 136.7,347.5 138.1,348.0 139.4,348.5 140.8,348.8 142.5,349.7 144.2,350.2 145.6,348.5 146.9,347.5 147.9,350.5 149.3,351.4 150.7,349.7 152.0,348.0 153.1,346.3 154.1,340.3 155.1,337.8 156.1,337.2 157.2,341.2 158.5,342.9 159.9,342.0 161.2,344.1 162.3,342.0 163.3,337.8 164.3,335.2 165.3,336.0 166.4,338.3 167.7,337.2 168.8,339.5 170.1,342.9" fill="none" stroke="#000" stroke-width="0.75" stroke-linejoin="round"/>
<polyline points="20.7,313.4 22.9,314.7 24.1,319.8 24.9,331.8 26.0,342.9 27.5,347.1 30.1,350.2 32.6,348.8 35.2,348.5 40.3,347.5 45.4,346.3 48.0,345.1 54.0,344.6 59.1,343.7 64.2,342.9 68.5,341.2 71.9,341.7 76.1,341.2 78.7,339.5 83.0,338.6 86.0,338.3 87.2,343.4 89.8,344.1 92.9,343.7 93.0,343.4 95.6,342.0 98.1,344.1 100.7,345.8 103.2,344.6 106.7,344.1 110.1,345.1 115.2,345.1 120.3,344.1 125.4,343.4 129.7,343.7 133.1,345.1 137.4,346.8 141.6,348.5 145.9,349.7 149.3,349.7 151.9,347.5 154.4,343.7 157.8,342.9 163.0,342.4 165.5,339.5 168.1,337.8 170.6,337.2" fill="none" stroke="#f00" stroke-width="0.7" stroke-linejoin="round"/>
<text transform="translate(21.6,256.6) scale(0.864,1)" font-size="6.6" fill="#1a1a1a" font-family="Liberation Sans, sans-serif">Bayern</text>
<rect x="125.8" y="248.1" width="48.8" height="28.9" rx="1.3" fill="#fff" fill-opacity="0.8" stroke="#ccc" stroke-width="0.5"/>
<line x1="128.2" x2="141.7" y1="253.2" y2="253.2" stroke="#000" stroke-width="0.7"/>
<text transform="translate(146.8,255.7) scale(0.864,1)" font-size="6.6" fill="#1a1a1a" font-family="Liberation Sans, sans-serif">data</text>
<line x1="128.2" x2="141.7" y1="262.2" y2="262.2" stroke="#f00" stroke-width="0.7"/>
<text transform="translate(146.8,264.6) scale(0.864,1)" font-size="6.6" fill="#1a1a1a" font-family="Liberation Sans, sans-serif">fit</text>
<line x1="128.2" x2="141.7" y1="271.1" y2="271.1" stroke="#bdbdbd" stroke-width="0.7"/>
<text transform="translate(146.8,273.5) scale(0.864,1)" font-size="6.6" fill="#1a1a1a" font-family="Liberation Sans, sans-serif">NPI score</text>
</g>
<clipPath id="c9"><rect x="177.6" y="245.2" width="164.3" height="122.3"/></clipPath>
<g clip-path="url(#c9)">
<line x1="177.6" x2="341.9" y1="270.1" y2="270.1" stroke="#999" stroke-width="0.5" stroke-dasharray="1.6,0.8"/>
<polyline points="185.9,366.2 186.9,355.7 188.1,348.8 188.9,309.6 190.3,295.9 191.5,295.1 197.1,295.1 197.5,290.8 204.3,290.8 204.8,302.8 208.6,303.1 209.1,315.6 209.8,312.1 215.4,312.1 219.7,312.7 220.5,313.9 227.8,313.9 228.5,325.8 243.2,325.8 243.9,324.1 246.1,324.1 246.6,326.3 250.4,326.3 251.2,314.4 256.9,313.9 257.0,313.9 258.4,313.4 259.0,307.0 263.1,306.5 263.8,295.1 270.3,294.6 271.0,292.2 277.1,292.2 277.8,294.6 293.2,294.6 293.9,290.5 303.4,290.5 304.1,294.6 311.3,295.1 311.9,307.0 318.8,307.6 319.4,309.6 334.6,309.6" fill="none" stroke="#c2c2c2" stroke-width="0.55" stroke-linejoin="round"/>
<polyline points="184.2,330.1 185.2,309.6 186.0,284.0 186.6,279.7 187.2,301.1 187.9,309.6 188.6,335.2 189.6,344.6 190.6,347.1 191.7,342.0 192.7,339.5 193.7,345.4 194.7,350.5 196.1,354.3 197.5,349.7 198.8,346.3 200.2,351.4 201.6,349.7 202.9,352.2 204.3,348.5 205.3,348.0 206.3,350.5 207.4,342.9 208.4,341.2 209.4,348.0 210.4,341.2 211.5,339.5 212.5,353.1 213.5,335.2 214.5,329.2 215.6,352.2 216.6,359.1 217.6,348.8 218.6,329.2 219.7,336.9 220.7,332.6 221.7,342.0 222.7,347.1 223.4,322.4 224.4,340.3 225.5,348.0 226.5,336.9 227.5,332.6 228.5,336.0 229.6,343.7 230.6,342.9 231.6,347.1 232.6,342.0 233.6,342.9 234.7,350.5 235.7,342.9 236.7,339.5 237.7,342.9 238.8,340.3 239.8,346.3 240.8,335.2 241.8,329.2 242.9,331.8 243.9,329.2 244.9,328.4 245.9,332.6 247.0,336.9 248.0,336.0 249.0,336.6 250.0,338.6 251.1,343.7 252.4,346.3 253.8,345.8 255.1,346.8 256.5,345.4 257.0,346.3 258.4,343.7 259.4,339.5 260.4,337.2 261.4,341.2 262.5,343.7 263.8,345.8 265.2,349.7 266.2,348.5 267.2,343.7 268.3,340.6 269.3,340.3 270.3,347.1 271.3,349.7 272.4,345.4 273.4,342.0 274.4,343.7 275.4,342.9 276.8,346.3 278.2,348.5 279.5,350.5 280.5,347.5 281.6,343.7 282.6,341.2 283.6,345.4 284.6,348.5 285.7,345.4 286.7,342.9 287.7,342.0 288.7,343.4 289.8,342.0 290.8,341.2 291.8,342.9 292.8,344.6 293.9,341.2 294.9,339.5 295.9,342.0 297.3,342.9 298.6,344.1 300.0,345.8 301.4,348.0 302.7,346.3 304.1,347.1 305.5,346.3 306.5,349.7 307.5,352.2 308.5,349.7 309.6,345.8 310.6,348.5 311.6,350.5 312.6,349.2 313.6,351.4 315.0,349.7 316.0,346.3 317.1,342.0 317.9,335.2 318.8,342.9 319.8,350.9 320.8,340.3 321.8,329.2 322.5,328.0 323.5,340.3 324.6,344.6 325.6,341.2 326.6,338.3 327.6,343.7 328.7,342.9 329.7,338.6 330.7,336.0 331.7,339.5 332.8,342.4 333.8,342.9 334.6,343.7" fill="none" stroke="#000" stroke-width="0.75" stroke-linejoin="round"/>
<polyline points="184.7,313.9 186.4,315.6 187.2,323.2 187.9,335.2 188.6,344.6 190.6,346.8 194.1,347.5 199.2,347.5 204.3,348.0 208.6,348.0 209.1,344.6 214.5,344.1 219.7,343.7 223.9,342.9 227.3,341.2 231.6,341.2 236.7,340.0 241.8,339.5 246.1,338.9 248.3,337.2 250.4,338.3 251.6,344.6 254.6,345.1 256.9,344.8 257.0,344.6 260.4,344.1 265.5,344.1 270.6,343.7 275.8,344.1 280.9,344.1 286.0,343.4 291.1,342.9 293.2,345.8 295.4,342.4 299.7,344.1 303.1,345.1 306.5,345.8 309.9,346.8 313.3,345.1 316.7,342.9 321.8,342.9 327.0,342.9 332.1,342.4 334.6,343.4" fill="none" stroke="#f00" stroke-width="0.7" stroke-linejoin="round"/>
<text transform="translate(186.0,256.6) scale(0.864,1)" font-size="6.6" fill="#1a1a1a" font-family="Liberation Sans, sans-serif">Saarland</text>
<rect x="290.2" y="248.1" width="48.8" height="28.9" rx="1.3" fill="#fff" fill-opacity="0.8" stroke="#ccc" stroke-width="0.5"/>
<line x1="292.5" x2="306.0" y1="253.2" y2="253.2" stroke="#000" stroke-width="0.7"/>
<text transform="translate(311.1,255.7) scale(0.864,1)" font-size="6.6" fill="#1a1a1a" font-family="Liberation Sans, sans-serif">data</text>
<line x1="292.5" x2="306.0" y1="262.2" y2="262.2" stroke="#f00" stroke-width="0.7"/>
<text transform="translate(311.1,264.6) scale(0.864,1)" font-size="6.6" fill="#1a1a1a" font-family="Liberation Sans, sans-serif">fit</text>
<line x1="292.5" x2="306.0" y1="271.1" y2="271.1" stroke="#bdbdbd" stroke-width="0.7"/>
<text transform="translate(311.1,273.5) scale(0.864,1)" font-size="6.6" fill="#1a1a1a" font-family="Liberation Sans, sans-serif">NPI score</text>
</g>
<clipPath id="c10"><rect x="341.9" y="245.2" width="164.3" height="122.3"/></clipPath>
<g clip-path="url(#c10)">
<line x1="341.9" x2="506.3" y1="270.1" y2="270.1" stroke="#999" stroke-width="0.5" stroke-dasharray="1.6,0.8"/>
<polyline points="352.6,366.2 352.6,335.2 353.8,307.9 356.4,307.0 356.9,301.1 361.8,300.7 362.3,299.0 366.6,299.0 367.1,307.0 371.7,307.6 372.2,313.4 375.1,313.9 375.6,320.7 378.9,321.2 379.4,328.0 390.5,328.0 391.0,326.3 412.7,326.3 413.5,328.0 414.9,325.8 415.4,307.6 420.9,307.0 421.0,307.0 422.7,305.3 427.1,304.8 427.8,301.1 432.9,300.7 433.6,292.2 443.2,291.7 444.0,284.3 448.3,284.3 449.2,286.1 456.5,286.6 457.2,290.8 467.1,290.8 467.8,286.6 473.0,286.6 473.9,301.1 474.2,317.3 482.8,317.3 483.5,307.6 486.2,307.6 486.9,317.3 498.6,317.3" fill="none" stroke="#c2c2c2" stroke-width="0.55" stroke-linejoin="round"/>
<polyline points="349.2,329.7 349.9,330.9 350.6,311.3 351.4,300.2 351.9,307.9 352.4,326.7 353.3,342.0 354.3,346.8 355.3,348.5 356.7,345.8 358.1,345.4 359.4,349.7 360.8,350.5 362.2,347.5 363.5,344.6 364.9,346.8 366.3,350.5 367.6,348.8 368.6,346.3 369.7,342.0 370.7,344.1 371.7,347.5 372.7,338.6 373.8,337.8 374.8,344.1 375.8,337.2 376.8,336.0 377.9,340.3 378.9,349.7 379.9,353.1 380.9,347.1 382.0,344.6 383.0,349.7 384.0,348.5 385.0,342.9 386.0,338.6 387.1,333.5 387.8,332.6 388.8,341.2 389.8,344.6 390.8,338.6 391.8,341.2 392.9,339.5 393.9,342.9 394.9,346.3 395.9,347.1 397.3,342.9 398.7,341.7 400.0,344.6 401.1,338.9 402.1,335.2 403.1,338.3 404.1,340.3 405.2,342.4 406.2,341.2 407.2,337.8 408.2,334.9 409.3,337.2 410.3,339.5 411.3,338.3 412.3,338.9 413.3,340.3 414.4,342.9 415.7,344.6 417.1,343.7 418.5,344.6 419.8,343.7 421.0,345.8 422.4,344.6 423.7,342.9 425.1,342.0 426.5,342.9 427.8,344.6 429.2,346.3 430.6,348.5 431.9,345.1 433.3,343.7 434.7,346.3 436.0,347.1 437.4,347.5 438.7,347.1 440.1,348.0 441.5,346.3 442.8,345.8 444.2,345.4 445.2,341.2 446.3,340.0 447.3,344.6 448.6,344.1 450.0,342.9 451.0,338.9 452.1,338.3 453.1,340.0 454.1,339.5 455.1,342.0 456.2,343.7 457.2,346.3 458.5,343.7 459.9,342.4 461.3,343.7 462.6,344.1 464.0,346.3 465.4,348.5 466.7,346.8 468.1,348.0 469.5,348.5 470.8,348.8 472.2,347.5 473.6,348.5 474.9,350.5 476.3,352.6 477.7,349.7 479.0,346.3 480.0,348.5 481.1,346.3 482.1,340.3 483.1,334.3 484.1,334.9 485.2,330.4 485.8,329.7 486.5,336.9 487.5,342.9 488.9,342.0 490.3,340.3 491.6,339.5 493.0,337.8 494.0,338.6 495.1,342.0 496.1,344.1 497.1,342.9 498.1,342.0 498.6,342.9" fill="none" stroke="#000" stroke-width="0.75" stroke-linejoin="round"/>
<polyline points="349.5,316.1 352.1,316.4 352.6,324.9 353.3,340.3 354.0,346.3 356.4,348.8 359.8,349.2 362.3,346.8 366.6,345.8 370.9,344.1 375.1,343.7 379.4,342.9 383.7,342.0 387.9,340.3 392.2,340.0 395.6,342.0 399.9,341.2 404.1,340.6 408.4,339.5 411.8,338.6 414.4,339.5 415.6,344.1 418.6,344.6 420.9,344.2 421.0,343.7 423.6,342.9 427.0,344.1 430.4,345.8 432.9,344.6 436.4,345.1 441.5,345.4 446.6,345.1 451.7,344.6 456.0,344.1 457.7,345.8 459.4,343.7 463.7,345.1 467.9,346.8 472.2,348.0 476.5,348.5 479.9,347.1 482.4,343.4 485.0,341.2 488.4,339.5 491.8,340.0 496.1,340.6 498.6,341.2" fill="none" stroke="#f00" stroke-width="0.7" stroke-linejoin="round"/>
<text transform="translate(350.3,256.6) scale(0.864,1)" font-size="6.6" fill="#1a1a1a" font-family="Liberation Sans, sans-serif">Berlin</text>
<rect x="454.5" y="248.1" width="48.8" height="28.9" rx="1.3" fill="#fff" fill-opacity="0.8" stroke="#ccc" stroke-width="0.5"/>
<line x1="456.8" x2="470.3" y1="253.2" y2="253.2" stroke="#000" stroke-width="0.7"/>
<text transform="translate(475.4,255.7) scale(0.864,1)" font-size="6.6" fill="#1a1a1a" font-family="Liberation Sans, sans-serif">data</text>
<line x1="456.8" x2="470.3" y1="262.2" y2="262.2" stroke="#f00" stroke-width="0.7"/>
<text transform="translate(475.4,264.6) scale(0.864,1)" font-size="6.6" fill="#1a1a1a" font-family="Liberation Sans, sans-serif">fit</text>
<line x1="456.8" x2="470.3" y1="271.1" y2="271.1" stroke="#bdbdbd" stroke-width="0.7"/>
<text transform="translate(475.4,273.5) scale(0.864,1)" font-size="6.6" fill="#1a1a1a" font-family="Liberation Sans, sans-serif">NPI score</text>
</g>
<clipPath id="c11"><rect x="506.3" y="245.2" width="164.3" height="122.3"/></clipPath>
<g clip-path="url(#c11)">
<line x1="506.3" x2="670.6" y1="270.1" y2="270.1" stroke="#999" stroke-width="0.5" stroke-dasharray="1.6,0.8"/>
<polyline points="516.2,366.2 517.1,359.1 517.9,335.2 518.8,313.4 524.8,313.0 525.6,311.3 527.3,311.0 527.8,308.2 530.7,307.9 531.6,302.8 533.6,302.8 534.3,307.6 535.4,311.0 573.4,311.0 574.3,313.0 579.0,313.0 579.7,307.6 585.9,307.2 586.0,307.2 597.6,307.2 598.3,299.7 602.2,299.4 602.7,288.3 608.2,287.8 609.0,286.6 613.6,286.6 614.3,292.2 620.1,292.5 620.8,294.6 631.2,295.1 632.1,290.0 632.8,284.8 640.9,284.8 641.6,301.1 642.0,311.0 647.8,311.3 648.5,319.8 654.3,319.8 654.9,317.8 663.6,317.8" fill="none" stroke="#c2c2c2" stroke-width="0.55" stroke-linejoin="round"/>
<polyline points="513.2,332.6 513.9,318.1 514.5,304.5 515.4,289.5 516.1,299.4 516.8,318.1 517.6,340.3 518.6,345.4 519.7,345.1 520.7,344.1 521.7,341.7 522.7,344.6 523.7,350.5 524.8,349.7 525.8,344.6 526.5,342.9 527.5,348.5 528.5,351.4 529.6,349.7 530.6,351.4 531.6,354.0 532.6,354.3 533.6,349.7 534.7,342.9 535.4,341.2 536.4,350.5 537.4,352.6 538.4,348.0 539.4,335.2 540.5,334.3 541.5,338.6 542.5,337.2 543.5,346.8 544.6,349.7 545.6,348.5 546.6,342.9 547.6,351.4 548.7,343.7 549.7,335.2 550.7,330.1 551.4,335.2 552.1,345.4 553.1,348.8 554.1,344.6 555.1,335.2 556.2,334.3 557.2,341.2 558.2,343.7 559.2,339.5 560.3,344.6 561.3,349.7 562.3,350.5 563.3,338.6 564.0,331.8 565.0,349.7 566.1,348.0 567.1,336.9 568.1,340.3 569.1,336.0 570.2,341.2 571.2,336.9 572.2,332.6 573.2,330.1 574.3,333.5 575.3,336.9 576.3,335.2 577.3,336.6 578.4,338.6 579.4,342.0 580.4,343.7 581.4,344.6 582.4,345.8 583.5,342.0 584.5,341.2 585.5,343.7 586.0,345.1 587.4,342.9 588.7,340.0 590.1,338.3 591.5,342.0 592.8,344.6 594.2,346.8 595.6,344.6 596.9,342.9 598.3,343.7 599.7,346.3 601.0,345.4 602.4,347.1 603.7,346.8 605.1,350.5 606.5,348.5 607.8,346.8 609.2,344.6 610.6,344.1 611.9,344.6 613.3,343.7 614.7,340.3 616.0,338.3 617.4,340.3 618.8,342.0 620.1,343.7 621.2,345.8 622.2,347.5 623.2,343.7 624.2,342.0 625.6,345.1 627.0,345.8 628.3,346.8 629.7,347.5 631.1,348.0 632.4,349.2 633.8,348.5 635.1,350.9 636.5,354.0 637.5,351.4 638.6,349.7 639.9,350.5 641.3,349.7 642.7,353.1 643.7,347.1 644.7,343.4 645.7,348.0 646.7,342.0 647.8,331.8 648.5,328.7 649.1,336.9 650.2,343.7 651.2,342.9 652.2,343.7 653.2,340.3 654.3,336.9 655.3,335.5 656.3,338.6 657.3,337.8 658.4,341.2 659.4,344.1 660.4,342.9 661.4,342.0 662.4,342.4 663.6,341.2" fill="none" stroke="#000" stroke-width="0.75" stroke-linejoin="round"/>
<polyline points="513.2,318.5 515.4,319.0 516.9,321.5 517.6,328.4 518.3,347.1 519.7,348.5 523.1,348.8 527.3,348.5 531.6,347.5 536.7,347.1 541.8,346.8 547.8,346.3 550.7,344.6 555.5,344.6 560.6,344.6 564.9,344.1 569.1,343.4 573.4,342.9 575.1,341.2 576.8,338.3 578.5,340.3 580.2,342.9 582.8,343.4 585.9,343.4 586.0,343.7 589.4,343.4 592.8,344.1 596.2,343.7 599.7,345.1 603.1,345.8 606.5,345.1 610.7,344.1 615.0,343.4 620.1,343.4 623.5,343.7 627.8,345.8 632.1,347.5 636.3,348.8 640.6,349.7 642.3,345.8 644.9,344.1 649.1,342.0 652.6,339.5 655.1,337.2 657.7,337.2 661.1,337.8 663.6,337.2" fill="none" stroke="#f00" stroke-width="0.7" stroke-linejoin="round"/>
<text transform="translate(514.7,256.6) scale(0.864,1)" font-size="6.6" fill="#1a1a1a" font-family="Liberation Sans, sans-serif">Brandenburg</text>
<rect x="618.9" y="248.1" width="48.8" height="28.9" rx="1.3" fill="#fff" fill-opacity="0.8" stroke="#ccc" stroke-width="0.5"/>
<line x1="621.2" x2="634.7" y1="253.2" y2="253.2" stroke="#000" stroke-width="0.7"/>
<text transform="translate(639.8,255.7) scale(0.864,1)" font-size="6.6" fill="#1a1a1a" font-family="Liberation Sans, sans-serif">data</text>
<line x1="621.2" x2="634.7" y1="262.2" y2="262.2" stroke="#f00" stroke-width="0.7"/>
<text transform="translate(639.8,264.6) scale(0.864,1)" font-size="6.6" fill="#1a1a1a" font-family="Liberation Sans, sans-serif">fit</text>
<line x1="621.2" x2="634.7" y1="271.1" y2="271.1" stroke="#bdbdbd" stroke-width="0.7"/>
<text transform="translate(639.8,273.5) scale(0.864,1)" font-size="6.6" fill="#1a1a1a" font-family="Liberation Sans, sans-serif">NPI score</text>
</g>
<clipPath id="c12"><rect x="13.2" y="367.5" width="164.3" height="122.3"/></clipPath>
<g clip-path="url(#c12)">
<line x1="13.2" x2="177.6" y1="392.4" y2="392.4" stroke="#999" stroke-width="0.5" stroke-dasharray="1.6,0.8"/>
<polyline points="23.2,488.2 23.6,460.6 31.8,460.3 32.3,441.0 33.1,440.1 36.0,439.3 36.9,438.1 37.7,440.1 38.6,449.5 39.5,456.3 41.1,456.9 42.0,460.6 47.5,460.6 48.0,452.9 63.3,452.4 63.9,450.7 64.5,452.4 75.3,452.1 75.8,450.7 86.0,450.4 86.7,437.6 92.9,437.1 93.0,437.1 94.0,437.1 94.5,432.4 95.2,436.4 96.8,435.9 97.6,439.3 98.5,433.6 104.6,433.3 105.3,423.1 105.8,409.1 109.2,408.6 110.1,410.3 118.6,409.8 119.5,408.6 121.2,409.1 122.0,412.8 123.4,413.7 124.1,418.8 127.1,419.3 128.0,417.6 134.8,417.6 135.7,415.4 147.3,415.4 147.9,421.4 151.4,421.7 152.0,425.1 170.6,425.1" fill="none" stroke="#c2c2c2" stroke-width="0.55" stroke-linejoin="round"/>
<polyline points="20.2,458.9 20.9,448.7 21.5,433.3 22.4,424.4 23.1,431.6 23.8,450.4 24.6,462.3 25.6,468.3 26.6,469.5 27.7,471.7 28.7,470.5 29.7,472.6 30.8,473.4 31.8,476.8 32.8,475.1 33.5,469.1 34.5,461.5 35.2,459.8 35.9,464.0 36.9,472.9 37.9,467.4 38.6,473.4 39.6,468.8 40.6,474.2 41.7,470.5 42.7,462.3 43.4,448.7 44.1,423.1 44.7,405.1 45.4,409.4 46.1,440.1 46.8,464.0 47.8,475.1 48.8,471.7 49.9,460.6 50.9,470.0 51.9,467.4 52.9,469.5 54.0,462.3 55.0,453.8 56.0,440.1 57.0,419.6 57.7,410.3 58.4,419.6 59.1,440.1 60.1,457.2 61.1,463.2 62.1,460.3 63.2,469.1 64.2,474.2 65.2,471.7 66.2,469.1 67.3,471.7 68.3,466.6 69.3,470.0 70.3,462.3 71.0,457.2 72.0,462.3 73.1,458.0 74.1,464.0 75.1,460.6 76.1,458.9 77.2,457.2 78.2,456.3 79.2,460.6 80.2,458.0 81.2,457.2 82.3,460.6 83.3,455.5 84.3,454.1 85.3,458.9 86.4,463.2 87.4,464.9 88.8,466.6 90.1,465.7 91.5,464.9 92.5,466.6 93.0,466.6 94.0,464.9 95.0,461.5 96.1,460.3 97.1,458.0 98.1,461.5 99.1,464.9 100.2,467.4 101.2,464.9 102.2,467.8 103.2,466.1 104.3,462.3 105.3,465.4 106.3,470.0 107.3,467.4 108.4,464.0 109.4,466.6 110.4,471.7 111.4,468.3 112.5,466.1 113.5,470.5 114.5,470.8 115.5,466.6 116.5,464.0 117.6,467.1 118.6,467.8 119.6,465.7 120.6,466.6 121.7,467.4 122.7,464.9 123.7,462.0 124.7,461.5 125.8,464.9 126.8,466.6 127.8,464.9 128.8,467.8 129.9,463.2 130.5,461.5 131.6,465.7 132.6,467.4 133.6,466.1 134.6,469.1 135.7,468.3 136.7,470.5 137.7,469.5 138.7,471.7 139.8,470.5 140.8,473.4 141.8,472.2 142.8,476.3 143.8,474.2 144.9,471.7 145.9,475.1 146.9,472.6 147.9,473.4 149.0,477.3 150.0,474.2 151.0,469.5 152.0,465.7 152.7,475.1 153.4,462.3 154.1,455.5 154.8,460.6 155.4,456.3 156.1,455.5 156.8,464.0 157.5,465.7 158.2,457.2 158.9,448.7 159.6,445.6 160.2,450.4 160.9,460.6 161.6,466.1 162.3,458.9 163.0,456.3 164.0,458.0 165.0,457.2 166.0,462.3 167.1,467.8 168.1,464.9 169.1,462.3 170.1,464.9" fill="none" stroke="#000" stroke-width="0.75" stroke-linejoin="round"/>
<polyline points="20.2,439.3 22.4,439.8 23.6,441.0 24.1,450.0 26.6,450.7 30.1,451.7 30.6,454.6 31.4,455.1 31.8,451.2 32.6,451.7 33.1,464.0 34.3,466.1 36.9,467.1 40.3,464.9 44.6,464.4 48.8,463.7 54.0,462.6 58.2,461.5 61.6,460.9 63.3,462.0 63.9,464.9 67.6,464.4 71.9,463.7 76.1,463.2 80.4,462.6 84.7,462.0 86.4,463.2 88.1,465.7 90.6,466.6 92.9,466.1 93.0,465.7 95.6,464.4 99.0,465.4 102.4,466.1 104.9,468.8 108.4,469.5 112.6,470.0 116.9,468.8 121.2,467.8 123.7,465.7 128.8,465.4 132.2,466.1 134.8,465.4 138.2,467.1 141.6,468.3 145.0,469.5 148.5,470.8 150.7,469.5 152.4,464.0 155.3,463.2 158.7,461.5 163.0,461.5 167.2,462.0 170.6,462.0" fill="none" stroke="#f00" stroke-width="0.7" stroke-linejoin="round"/>
<text transform="translate(21.6,378.9) scale(0.864,1)" font-size="6.6" fill="#1a1a1a" font-family="Liberation Sans, sans-serif">Mecklenburg-Vorpommern</text>
<rect x="125.8" y="370.4" width="48.8" height="28.9" rx="1.3" fill="#fff" fill-opacity="0.8" stroke="#ccc" stroke-width="0.5"/>
<line x1="128.2" x2="141.7" y1="375.6" y2="375.6" stroke="#000" stroke-width="0.7"/>
<text transform="translate(146.8,377.9) scale(0.864,1)" font-size="6.6" fill="#1a1a1a" font-family="Liberation Sans, sans-serif">data</text>
<line x1="128.2" x2="141.7" y1="384.5" y2="384.5" stroke="#f00" stroke-width="0.7"/>
<text transform="translate(146.8,386.9) scale(0.864,1)" font-size="6.6" fill="#1a1a1a" font-family="Liberation Sans, sans-serif">fit</text>
<line x1="128.2" x2="141.7" y1="393.4" y2="393.4" stroke="#bdbdbd" stroke-width="0.7"/>
<text transform="translate(146.8,395.8) scale(0.864,1)" font-size="6.6" fill="#1a1a1a" font-family="Liberation Sans, sans-serif">NPI score</text>
</g>
<clipPath id="c13"><rect x="177.6" y="367.5" width="164.3" height="122.3"/></clipPath>
<g clip-path="url(#c13)">
<line x1="177.6" x2="341.9" y1="392.4" y2="392.4" stroke="#999" stroke-width="0.5" stroke-dasharray="1.6,0.8"/>
<polyline points="188.6,488.2 188.9,457.2 189.8,434.1 192.0,433.3 192.7,420.5 197.1,420.0 197.5,409.1 200.5,409.1 201.2,412.8 209.4,413.2 210.1,437.6 215.4,438.1 216.2,447.8 221.4,448.3 222.0,454.6 233.3,454.6 234.2,456.3 241.8,456.3 242.7,454.1 250.4,454.1 251.1,433.0 256.9,433.0 257.0,433.9 258.7,433.2 261.8,433.2 262.5,417.3 269.8,416.8 270.6,411.4 274.1,411.0 274.7,400.8 279.2,400.8 279.9,408.8 285.2,408.8 286.0,407.1 292.0,407.1 292.8,411.0 302.2,411.0 303.1,431.5 311.9,431.8 312.6,442.1 317.1,442.4 317.7,444.6 323.5,444.6 324.6,423.3 334.6,423.3" fill="none" stroke="#c2c2c2" stroke-width="0.55" stroke-linejoin="round"/>
<polyline points="184.8,445.4 185.1,354.8 185.8,435.0 186.3,396.4 186.9,423.1 187.6,440.1 188.3,452.1 188.9,458.9 190.0,465.7 191.0,468.3 192.0,470.5 193.4,471.2 194.7,471.7 196.1,474.6 197.5,472.6 198.8,470.5 200.2,467.8 201.2,464.9 202.3,467.8 203.3,470.0 204.3,468.8 205.3,470.0 206.3,473.4 207.4,475.1 208.4,473.4 209.4,475.6 210.4,470.8 211.5,465.7 212.1,457.2 212.8,446.9 213.3,444.4 214.0,455.5 214.7,472.6 215.7,479.7 216.8,474.2 217.8,467.4 218.8,470.5 219.8,464.9 220.9,460.6 221.5,464.0 222.2,469.1 223.2,462.3 224.3,453.8 225.3,455.5 226.3,450.0 227.0,457.2 228.0,468.3 229.0,465.7 230.1,463.2 231.1,464.0 232.1,458.9 233.1,456.3 234.2,462.3 235.2,467.4 236.2,463.2 237.2,458.0 238.3,463.2 239.3,464.9 240.3,465.7 241.3,464.9 242.4,460.6 243.4,451.2 244.4,452.9 245.4,458.0 246.4,454.6 247.5,457.2 248.5,458.9 249.5,460.6 250.5,461.5 251.6,464.0 252.9,467.1 254.3,464.9 255.7,464.0 256.7,464.9 257.0,464.9 258.4,464.0 259.7,462.6 261.1,462.3 262.5,464.9 263.8,467.1 265.2,469.5 266.2,471.2 267.2,468.8 268.3,467.1 269.3,468.3 270.3,470.8 271.3,471.7 272.7,469.1 274.1,468.8 275.4,470.5 276.8,470.0 278.2,470.5 279.5,467.8 280.9,465.4 282.3,464.0 283.6,466.1 285.0,464.9 286.3,463.2 287.7,461.5 288.7,460.9 289.8,463.2 290.8,465.7 291.8,465.4 292.8,467.1 293.9,464.9 294.9,464.0 295.9,466.6 296.9,467.8 297.9,465.7 299.0,467.1 300.0,468.3 301.4,468.8 302.7,470.5 304.1,471.7 305.5,472.6 306.8,473.4 308.2,474.6 309.6,472.9 310.9,473.9 312.3,475.1 313.3,476.3 314.3,473.4 315.4,470.0 316.4,471.7 317.4,468.3 318.1,465.7 318.8,468.3 319.4,464.0 320.1,458.9 320.8,462.3 321.5,465.7 322.2,460.6 322.9,456.9 323.5,456.3 324.6,460.6 325.6,466.6 326.6,465.7 327.6,460.6 328.7,458.6 329.7,459.2 330.7,464.0 331.7,465.7 332.8,464.0 333.8,463.2 334.6,459.8" fill="none" stroke="#000" stroke-width="0.75" stroke-linejoin="round"/>
<polyline points="185.2,438.1 187.2,438.4 188.1,437.6 188.9,438.8 189.3,450.4 190.3,458.9 191.5,459.8 192.4,469.1 194.1,471.7 196.6,472.2 198.3,470.0 201.7,469.5 205.2,470.5 208.6,470.0 211.1,467.8 216.2,467.1 221.4,466.1 226.5,464.9 231.6,464.0 236.7,463.2 241.8,462.3 247.0,461.5 249.5,460.3 251.2,461.5 252.9,466.1 256.9,464.9 257.0,464.4 259.6,463.7 262.1,465.7 264.7,468.3 267.2,467.8 270.6,468.3 274.1,469.5 278.3,469.5 282.6,468.3 286.9,466.6 291.1,465.7 295.4,466.1 298.8,467.1 301.7,468.3 303.9,465.4 307.3,466.1 310.7,466.6 314.2,464.0 318.4,463.2 323.5,462.6 328.7,464.0 332.1,463.7 334.6,463.2" fill="none" stroke="#f00" stroke-width="0.7" stroke-linejoin="round"/>
<text transform="translate(186.0,378.9) scale(0.864,1)" font-size="6.6" fill="#1a1a1a" font-family="Liberation Sans, sans-serif">Sachsen</text>
<rect x="290.2" y="370.4" width="48.8" height="28.9" rx="1.3" fill="#fff" fill-opacity="0.8" stroke="#ccc" stroke-width="0.5"/>
<line x1="292.5" x2="306.0" y1="375.6" y2="375.6" stroke="#000" stroke-width="0.7"/>
<text transform="translate(311.1,377.9) scale(0.864,1)" font-size="6.6" fill="#1a1a1a" font-family="Liberation Sans, sans-serif">data</text>
<line x1="292.5" x2="306.0" y1="384.5" y2="384.5" stroke="#f00" stroke-width="0.7"/>
<text transform="translate(311.1,386.9) scale(0.864,1)" font-size="6.6" fill="#1a1a1a" font-family="Liberation Sans, sans-serif">fit</text>
<line x1="292.5" x2="306.0" y1="393.4" y2="393.4" stroke="#bdbdbd" stroke-width="0.7"/>
<text transform="translate(311.1,395.8) scale(0.864,1)" font-size="6.6" fill="#1a1a1a" font-family="Liberation Sans, sans-serif">NPI score</text>
</g>
<clipPath id="c14"><rect x="341.9" y="367.5" width="164.3" height="122.3"/></clipPath>
<g clip-path="url(#c14)">
<line x1="341.9" x2="506.3" y1="392.4" y2="392.4" stroke="#999" stroke-width="0.5" stroke-dasharray="1.6,0.8"/>
<polyline points="352.6,488.2 352.6,457.2 353.8,446.1 354.7,414.5 356.7,414.2 364.9,414.2 365.6,410.8 367.4,410.8 368.0,414.5 371.7,414.9 372.4,435.9 381.1,436.4 382.0,444.4 401.6,444.4 402.4,448.7 403.1,452.4 409.3,452.4 410.1,450.7 414.4,450.7 415.2,429.9 420.9,429.6 421.0,429.6 429.2,429.0 429.9,419.6 433.8,419.3 434.7,414.2 438.1,413.7 438.7,406.9 449.2,406.9 450.0,409.4 450.9,412.8 453.4,411.5 455.1,412.5 457.7,411.5 459.4,413.2 462.0,412.0 463.7,413.2 466.2,412.8 466.7,409.1 477.3,409.1 478.0,427.3 498.6,427.3" fill="none" stroke="#c2c2c2" stroke-width="0.55" stroke-linejoin="round"/>
<polyline points="349.2,423.1 349.5,363.3 350.0,388.9 350.9,414.5 351.6,431.6 352.3,448.7 352.9,458.9 354.0,467.4 355.0,470.0 356.0,467.8 357.0,470.5 358.1,469.1 359.1,471.7 360.1,470.0 361.1,470.8 362.2,468.3 363.2,471.7 364.2,473.4 365.2,474.2 366.3,467.1 367.3,470.8 368.3,476.8 369.3,477.7 370.3,471.7 371.4,473.4 372.4,476.8 373.1,462.3 373.8,451.2 374.4,455.5 375.1,450.0 375.8,445.2 376.5,431.6 377.2,450.4 377.9,464.0 378.5,472.6 379.6,479.7 380.6,474.2 381.6,464.0 382.3,460.3 383.3,469.1 384.3,464.9 385.4,460.3 386.4,460.9 387.4,465.7 388.4,462.3 389.5,470.0 390.5,465.7 391.5,460.6 392.5,457.2 393.6,464.0 394.6,470.0 395.6,467.4 396.6,465.7 397.7,469.1 398.7,470.0 399.7,464.9 400.7,452.9 401.7,456.3 402.8,460.6 403.8,463.2 404.8,465.7 405.8,462.3 406.9,466.6 407.9,467.8 408.9,462.3 409.9,457.2 411.0,450.7 412.0,452.1 413.0,451.2 414.0,458.9 415.1,464.9 416.1,467.1 417.4,466.6 418.8,464.9 420.2,462.0 421.0,465.4 422.4,464.0 423.7,461.5 425.1,462.0 426.5,463.7 427.8,464.9 429.2,467.8 430.2,469.1 431.2,466.6 432.3,464.9 433.3,464.4 434.3,466.1 435.3,468.3 436.4,467.1 437.4,469.5 438.4,468.8 439.4,472.2 440.5,470.5 441.5,470.0 442.5,470.8 443.5,467.4 444.5,465.7 445.6,465.4 446.6,467.1 448.0,467.8 449.3,466.1 450.3,464.0 451.4,463.2 452.4,463.7 453.4,462.6 454.4,462.3 455.5,464.9 456.5,467.4 457.5,464.9 458.5,464.4 459.6,466.1 460.6,464.9 461.6,466.6 462.6,465.7 463.7,468.3 464.7,470.5 465.7,469.5 466.7,470.0 467.8,470.8 468.8,472.9 469.8,472.2 470.8,473.4 471.8,472.6 472.9,470.5 473.9,473.4 474.9,475.1 475.9,474.2 477.0,476.3 478.0,475.6 479.0,473.4 480.0,471.2 481.1,472.2 481.7,467.4 482.4,460.6 483.1,464.9 483.8,466.6 484.5,458.9 485.2,452.9 485.7,452.1 486.2,460.6 486.9,465.7 487.5,463.2 488.2,458.0 488.9,461.5 489.6,457.2 490.3,458.0 491.0,461.5 491.6,458.9 492.3,463.2 493.0,460.9 493.7,464.9 494.4,463.2 495.1,465.7 495.7,464.0 496.4,464.9 497.1,463.2 497.8,464.0 498.6,459.2" fill="none" stroke="#000" stroke-width="0.75" stroke-linejoin="round"/>
<polyline points="349.2,437.1 351.6,437.6 352.6,445.2 353.3,462.3 354.3,470.5 357.2,470.8 358.9,472.9 360.6,471.7 364.0,470.5 368.3,469.5 372.6,468.8 376.8,468.8 381.1,467.8 385.4,467.1 389.6,466.1 393.0,464.4 397.3,464.4 401.6,463.7 405.8,462.0 410.1,460.9 413.5,460.3 414.9,460.6 415.7,466.1 418.6,466.6 420.9,466.2 421.0,466.1 425.3,466.1 429.5,466.6 432.1,464.9 435.5,466.1 438.9,468.3 443.2,468.3 447.4,467.4 450.9,464.9 455.1,464.4 459.4,465.7 462.8,466.6 466.2,467.8 469.6,469.1 473.0,470.5 475.9,470.5 478.2,466.1 481.6,464.9 485.8,463.7 490.1,462.3 494.4,460.9 498.6,460.3" fill="none" stroke="#f00" stroke-width="0.7" stroke-linejoin="round"/>
<text transform="translate(350.3,378.9) scale(0.864,1)" font-size="6.6" fill="#1a1a1a" font-family="Liberation Sans, sans-serif">Sachsen-Anhalt</text>
<rect x="454.5" y="370.4" width="48.8" height="28.9" rx="1.3" fill="#fff" fill-opacity="0.8" stroke="#ccc" stroke-width="0.5"/>
<line x1="456.8" x2="470.3" y1="375.6" y2="375.6" stroke="#000" stroke-width="0.7"/>
<text transform="translate(475.4,377.9) scale(0.864,1)" font-size="6.6" fill="#1a1a1a" font-family="Liberation Sans, sans-serif">data</text>
<line x1="456.8" x2="470.3" y1="384.5" y2="384.5" stroke="#f00" stroke-width="0.7"/>
<text transform="translate(475.4,386.9) scale(0.864,1)" font-size="6.6" fill="#1a1a1a" font-family="Liberation Sans, sans-serif">fit</text>
<line x1="456.8" x2="470.3" y1="393.4" y2="393.4" stroke="#bdbdbd" stroke-width="0.7"/>
<text transform="translate(475.4,395.8) scale(0.864,1)" font-size="6.6" fill="#1a1a1a" font-family="Liberation Sans, sans-serif">NPI score</text>
</g>
<clipPath id="c15"><rect x="506.3" y="367.5" width="164.3" height="122.3"/></clipPath>
<g clip-path="url(#c15)">
<line x1="506.3" x2="670.6" y1="392.4" y2="392.4" stroke="#999" stroke-width="0.5" stroke-dasharray="1.6,0.8"/>
<polyline points="515.4,488.2 516.6,484.5 518.8,470.8 519.3,457.2 519.7,413.7 525.6,413.2 526.1,418.8 526.8,421.0 527.3,418.3 529.0,418.3 529.6,427.3 540.1,427.3 541.0,433.3 541.5,437.6 562.0,437.6 562.7,442.2 574.3,442.2 577.7,441.8 579.4,441.5 580.1,424.4 581.9,423.9 582.4,422.7 585.9,422.4 586.0,422.7 591.1,422.7 592.0,406.9 609.9,406.3 610.7,411.1 612.5,414.2 619.3,413.7 620.1,413.2 624.4,413.7 627.0,413.2 628.7,414.9 630.4,413.2 637.2,413.2 637.9,427.3 645.7,427.8 646.4,435.9 653.4,435.9 654.3,433.6 663.6,433.6" fill="none" stroke="#c2c2c2" stroke-width="0.55" stroke-linejoin="round"/>
<polyline points="513.2,458.9 513.9,454.6 514.5,440.1 515.4,416.2 516.1,415.9 516.6,431.6 517.3,435.0 517.9,453.8 519.0,465.7 520.0,470.0 521.0,468.3 522.0,469.5 523.1,466.6 524.1,466.1 525.1,465.7 526.1,468.3 527.2,466.6 528.2,470.5 529.2,471.7 530.2,467.8 531.3,466.6 532.3,470.0 533.3,468.3 534.3,466.1 535.4,465.4 536.4,468.3 537.4,474.2 538.4,471.7 539.4,464.0 540.5,463.7 541.5,472.6 542.5,476.0 543.5,473.4 544.6,474.2 545.6,469.1 546.6,463.2 547.6,464.9 548.7,460.3 549.7,471.7 550.7,472.6 551.7,458.9 552.8,462.3 553.8,470.0 554.8,458.0 555.8,456.9 556.9,464.9 557.9,464.0 558.9,468.3 559.9,467.8 560.9,464.0 562.0,460.9 563.0,469.1 564.0,461.5 565.0,457.2 565.7,454.1 566.4,458.9 567.4,464.9 568.5,471.7 569.5,470.8 570.5,464.0 571.5,455.8 572.6,456.3 573.6,459.2 574.6,455.5 575.6,456.3 576.6,455.5 577.7,458.0 578.7,460.6 579.7,464.9 580.7,466.1 581.8,464.0 582.8,461.5 583.8,460.9 584.8,464.0 585.7,466.1 586.0,466.1 587.4,463.2 588.7,461.5 590.1,462.0 591.5,464.0 592.8,466.1 594.2,468.3 595.2,470.5 596.2,468.3 597.3,466.6 598.3,465.7 599.3,468.3 600.3,470.0 601.4,467.8 602.4,468.8 603.4,469.5 604.4,468.3 605.5,467.8 606.5,469.5 607.5,470.5 608.5,466.6 609.6,464.9 610.6,466.1 611.6,467.1 612.6,465.7 613.6,464.9 614.7,464.0 615.7,462.6 616.7,462.0 617.7,464.0 618.8,464.9 619.8,465.7 620.8,467.1 621.8,468.8 622.9,465.7 623.9,464.9 624.9,466.1 626.3,466.6 627.6,467.1 629.0,468.3 630.4,469.5 631.7,470.5 633.1,471.2 634.5,472.6 635.5,474.6 636.5,475.1 637.5,473.4 638.6,471.7 639.6,472.9 640.6,474.2 641.6,476.0 642.7,476.3 643.7,474.2 644.7,471.7 645.4,466.6 646.1,468.3 646.7,471.7 647.4,470.0 648.1,464.9 648.8,460.6 649.5,457.2 650.2,462.3 650.8,458.9 651.5,459.8 652.2,463.2 652.9,466.6 653.6,468.8 654.3,464.9 654.9,465.7 655.6,467.8 656.3,464.0 657.0,464.9 657.7,460.3 658.4,458.0 659.0,461.5 659.7,462.3 660.4,458.9 661.1,454.6 661.8,458.0 662.4,460.6 663.1,461.5 663.6,463.2" fill="none" stroke="#000" stroke-width="0.75" stroke-linejoin="round"/>
<polyline points="513.2,439.3 515.4,440.1 516.6,442.7 517.6,446.9 518.3,457.2 519.0,467.4 519.7,470.8 522.2,471.7 523.9,472.9 525.6,471.2 529.9,471.2 535.0,470.5 540.1,470.0 541.8,466.6 547.0,465.7 552.1,464.9 557.2,463.7 561.5,462.3 565.7,461.5 570.8,460.6 576.0,459.8 578.5,458.0 579.7,459.2 580.7,464.0 582.8,464.4 585.9,464.0 586.0,464.9 588.6,465.4 592.0,466.6 594.5,468.8 597.1,467.1 601.4,467.1 606.5,466.6 611.6,466.1 616.7,465.4 621.0,465.7 624.4,466.1 627.8,467.8 631.2,469.1 634.6,470.5 638.0,470.8 641.5,470.5 644.9,469.1 649.1,467.1 653.4,464.9 656.8,463.2 660.2,461.5 663.6,461.5" fill="none" stroke="#f00" stroke-width="0.7" stroke-linejoin="round"/>
<text transform="translate(514.7,378.9) scale(0.864,1)" font-size="6.6" fill="#1a1a1a" font-family="Liberation Sans, sans-serif">Thüringen</text>
<rect x="618.9" y="370.4" width="48.8" height="28.9" rx="1.3" fill="#fff" fill-opacity="0.8" stroke="#ccc" stroke-width="0.5"/>
<line x1="621.2" x2="634.7" y1="375.6" y2="375.6" stroke="#000" stroke-width="0.7"/>
<text transform="translate(639.8,377.9) scale(0.864,1)" font-size="6.6" fill="#1a1a1a" font-family="Liberation Sans, sans-serif">data</text>
<line x1="621.2" x2="634.7" y1="384.5" y2="384.5" stroke="#f00" stroke-width="0.7"/>
<text transform="translate(639.8,386.9) scale(0.864,1)" font-size="6.6" fill="#1a1a1a" font-family="Liberation Sans, sans-serif">fit</text>
<line x1="621.2" x2="634.7" y1="393.4" y2="393.4" stroke="#bdbdbd" stroke-width="0.7"/>
<text transform="translate(639.8,395.8) scale(0.864,1)" font-size="6.6" fill="#1a1a1a" font-family="Liberation Sans, sans-serif">NPI score</text>
</g>
<path d="M19.50 0.60v3.0M19.50 122.90v-3.0M28.02 0.60v1.9M28.02 122.90v-1.9M36.26 0.60v3.0M36.26 122.90v-3.0M44.78 0.60v1.9M44.78 122.90v-1.9M53.03 0.60v3.0M53.03 122.90v-3.0M61.54 0.60v1.9M61.54 122.90v-1.9M70.06 0.60v3.0M70.06 122.90v-3.0M78.31 0.60v1.9M78.31 122.90v-1.9M86.83 0.60v3.0M86.83 122.90v-3.0M95.07 0.60v1.9M95.07 122.90v-1.9M103.59 0.60v3.0M103.59 122.90v-3.0M112.11 0.60v1.9M112.11 122.90v-1.9M119.80 0.60v3.0M119.80 122.90v-3.0M128.32 0.60v1.9M128.32 122.90v-1.9M136.56 0.60v3.0M136.56 122.90v-3.0M145.08 0.60v1.9M145.08 122.90v-1.9M153.33 0.60v3.0M153.33 122.90v-3.0M161.85 0.60v1.9M161.85 122.90v-1.9M170.37 0.60v3.0M170.37 122.90v-3.0M13.25 122.90h3.0M13.25 118.28h1.9M13.25 113.67h1.9M13.25 109.05h1.9M13.25 104.44h1.9M13.25 99.82h3.0M13.25 95.21h1.9M13.25 90.59h1.9M13.25 85.98h1.9M13.25 81.36h1.9M13.25 76.75h3.0M13.25 72.13h1.9M13.25 67.52h1.9M13.25 62.90h1.9M13.25 58.29h1.9M13.25 53.67h3.0M13.25 49.06h1.9M13.25 44.44h1.9M13.25 39.83h1.9M13.25 35.21h1.9M13.25 30.60h3.0M13.25 25.98h1.9M13.25 21.37h1.9M13.25 16.75h1.9M13.25 12.14h1.9M13.25 7.52h3.0M13.25 2.91h1.9M177.59 122.90h-3.0M177.59 118.75h-1.9M177.59 114.61h-1.9M177.59 110.46h-1.9M177.59 106.32h-1.9M177.59 102.17h-3.0M177.59 98.03h-1.9M177.59 93.88h-1.9M177.59 89.73h-1.9M177.59 85.59h-1.9M177.59 81.44h-3.0M177.59 77.30h-1.9M177.59 73.15h-1.9M177.59 69.01h-1.9M177.59 64.86h-1.9M177.59 60.71h-3.0M177.59 56.57h-1.9M177.59 52.42h-1.9M177.59 48.28h-1.9M177.59 44.13h-1.9M177.59 39.98h-3.0M177.59 35.84h-1.9M177.59 31.69h-1.9M177.59 27.55h-1.9M177.59 23.40h-1.9M177.59 19.26h-3.0M177.59 15.11h-1.9M177.59 10.96h-1.9M177.59 6.82h-1.9M177.59 2.67h-1.9M183.84 0.60v3.0M183.84 122.90v-3.0M192.36 0.60v1.9M192.36 122.90v-1.9M200.60 0.60v3.0M200.60 122.90v-3.0M209.12 0.60v1.9M209.12 122.90v-1.9M217.36 0.60v3.0M217.36 122.90v-3.0M225.88 0.60v1.9M225.88 122.90v-1.9M234.40 0.60v3.0M234.40 122.90v-3.0M242.64 0.60v1.9M242.64 122.90v-1.9M251.16 0.60v3.0M251.16 122.90v-3.0M259.41 0.60v1.9M259.41 122.90v-1.9M267.93 0.60v3.0M267.93 122.90v-3.0M276.45 0.60v1.9M276.45 122.90v-1.9M284.14 0.60v3.0M284.14 122.90v-3.0M292.66 0.60v1.9M292.66 122.90v-1.9M300.90 0.60v3.0M300.90 122.90v-3.0M309.42 0.60v1.9M309.42 122.90v-1.9M317.67 0.60v3.0M317.67 122.90v-3.0M326.18 0.60v1.9M326.18 122.90v-1.9M334.70 0.60v3.0M334.70 122.90v-3.0M177.59 122.90h3.0M177.59 118.28h1.9M177.59 113.67h1.9M177.59 109.05h1.9M177.59 104.44h1.9M177.59 99.82h3.0M177.59 95.21h1.9M177.59 90.59h1.9M177.59 85.98h1.9M177.59 81.36h1.9M177.59 76.75h3.0M177.59 72.13h1.9M177.59 67.52h1.9M177.59 62.90h1.9M177.59 58.29h1.9M177.59 53.67h3.0M177.59 49.06h1.9M177.59 44.44h1.9M177.59 39.83h1.9M177.59 35.21h1.9M177.59 30.60h3.0M177.59 25.98h1.9M177.59 21.37h1.9M177.59 16.75h1.9M177.59 12.14h1.9M177.59 7.52h3.0M177.59 2.91h1.9M341.93 122.90h-3.0M341.93 118.75h-1.9M341.93 114.61h-1.9M341.93 110.46h-1.9M341.93 106.32h-1.9M341.93 102.17h-3.0M341.93 98.03h-1.9M341.93 93.88h-1.9M341.93 89.73h-1.9M341.93 85.59h-1.9M341.93 81.44h-3.0M341.93 77.30h-1.9M341.93 73.15h-1.9M341.93 69.01h-1.9M341.93 64.86h-1.9M341.93 60.71h-3.0M341.93 56.57h-1.9M341.93 52.42h-1.9M341.93 48.28h-1.9M341.93 44.13h-1.9M341.93 39.98h-3.0M341.93 35.84h-1.9M341.93 31.69h-1.9M341.93 27.55h-1.9M341.93 23.40h-1.9M341.93 19.26h-3.0M341.93 15.11h-1.9M341.93 10.96h-1.9M341.93 6.82h-1.9M341.93 2.67h-1.9M348.18 0.60v3.0M348.18 122.90v-3.0M356.69 0.60v1.9M356.69 122.90v-1.9M364.94 0.60v3.0M364.94 122.90v-3.0M373.46 0.60v1.9M373.46 122.90v-1.9M381.70 0.60v3.0M381.70 122.90v-3.0M390.22 0.60v1.9M390.22 122.90v-1.9M398.74 0.60v3.0M398.74 122.90v-3.0M406.98 0.60v1.9M406.98 122.90v-1.9M415.50 0.60v3.0M415.50 122.90v-3.0M423.75 0.60v1.9M423.75 122.90v-1.9M432.26 0.60v3.0M432.26 122.90v-3.0M440.78 0.60v1.9M440.78 122.90v-1.9M448.48 0.60v3.0M448.48 122.90v-3.0M457.00 0.60v1.9M457.00 122.90v-1.9M465.24 0.60v3.0M465.24 122.90v-3.0M473.76 0.60v1.9M473.76 122.90v-1.9M482.00 0.60v3.0M482.00 122.90v-3.0M490.52 0.60v1.9M490.52 122.90v-1.9M499.04 0.60v3.0M499.04 122.90v-3.0M341.93 122.90h3.0M341.93 118.28h1.9M341.93 113.67h1.9M341.93 109.05h1.9M341.93 104.44h1.9M341.93 99.82h3.0M341.93 95.21h1.9M341.93 90.59h1.9M341.93 85.98h1.9M341.93 81.36h1.9M341.93 76.75h3.0M341.93 72.13h1.9M341.93 67.52h1.9M341.93 62.90h1.9M341.93 58.29h1.9M341.93 53.67h3.0M341.93 49.06h1.9M341.93 44.44h1.9M341.93 39.83h1.9M341.93 35.21h1.9M341.93 30.60h3.0M341.93 25.98h1.9M341.93 21.37h1.9M341.93 16.75h1.9M341.93 12.14h1.9M341.93 7.52h3.0M341.93 2.91h1.9M506.26 122.90h-3.0M506.26 118.75h-1.9M506.26 114.61h-1.9M506.26 110.46h-1.9M506.26 106.32h-1.9M506.26 102.17h-3.0M506.26 98.03h-1.9M506.26 93.88h-1.9M506.26 89.73h-1.9M506.26 85.59h-1.9M506.26 81.44h-3.0M506.26 77.30h-1.9M506.26 73.15h-1.9M506.26 69.01h-1.9M506.26 64.86h-1.9M506.26 60.71h-3.0M506.26 56.57h-1.9M506.26 52.42h-1.9M506.26 48.28h-1.9M506.26 44.13h-1.9M506.26 39.98h-3.0M506.26 35.84h-1.9M506.26 31.69h-1.9M506.26 27.55h-1.9M506.26 23.40h-1.9M506.26 19.26h-3.0M506.26 15.11h-1.9M506.26 10.96h-1.9M506.26 6.82h-1.9M506.26 2.67h-1.9M512.51 0.60v3.0M512.51 122.90v-3.0M521.03 0.60v1.9M521.03 122.90v-1.9M529.28 0.60v3.0M529.28 122.90v-3.0M537.79 0.60v1.9M537.79 122.90v-1.9M546.04 0.60v3.0M546.04 122.90v-3.0M554.56 0.60v1.9M554.56 122.90v-1.9M563.08 0.60v3.0M563.08 122.90v-3.0M571.32 0.60v1.9M571.32 122.90v-1.9M579.84 0.60v3.0M579.84 122.90v-3.0M588.08 0.60v1.9M588.08 122.90v-1.9M596.60 0.60v3.0M596.60 122.90v-3.0M605.12 0.60v1.9M605.12 122.90v-1.9M612.81 0.60v3.0M612.81 122.90v-3.0M621.33 0.60v1.9M621.33 122.90v-1.9M629.58 0.60v3.0M629.58 122.90v-3.0M638.10 0.60v1.9M638.10 122.90v-1.9M646.34 0.60v3.0M646.34 122.90v-3.0M654.86 0.60v1.9M654.86 122.90v-1.9M663.38 0.60v3.0M663.38 122.90v-3.0M506.26 122.90h3.0M506.26 118.28h1.9M506.26 113.67h1.9M506.26 109.05h1.9M506.26 104.44h1.9M506.26 99.82h3.0M506.26 95.21h1.9M506.26 90.59h1.9M506.26 85.98h1.9M506.26 81.36h1.9M506.26 76.75h3.0M506.26 72.13h1.9M506.26 67.52h1.9M506.26 62.90h1.9M506.26 58.29h1.9M506.26 53.67h3.0M506.26 49.06h1.9M506.26 44.44h1.9M506.26 39.83h1.9M506.26 35.21h1.9M506.26 30.60h3.0M506.26 25.98h1.9M506.26 21.37h1.9M506.26 16.75h1.9M506.26 12.14h1.9M506.26 7.52h3.0M506.26 2.91h1.9M670.60 122.90h-3.0M670.60 118.75h-1.9M670.60 114.61h-1.9M670.60 110.46h-1.9M670.60 106.32h-1.9M670.60 102.17h-3.0M670.60 98.03h-1.9M670.60 93.88h-1.9M670.60 89.73h-1.9M670.60 85.59h-1.9M670.60 81.44h-3.0M670.60 77.30h-1.9M670.60 73.15h-1.9M670.60 69.01h-1.9M670.60 64.86h-1.9M670.60 60.71h-3.0M670.60 56.57h-1.9M670.60 52.42h-1.9M670.60 48.28h-1.9M670.60 44.13h-1.9M670.60 39.98h-3.0M670.60 35.84h-1.9M670.60 31.69h-1.9M670.60 27.55h-1.9M670.60 23.40h-1.9M670.60 19.26h-3.0M670.60 15.11h-1.9M670.60 10.96h-1.9M670.60 6.82h-1.9M670.60 2.67h-1.9M19.50 122.90v3.0M19.50 245.20v-3.0M28.02 122.90v1.9M28.02 245.20v-1.9M36.26 122.90v3.0M36.26 245.20v-3.0M44.78 122.90v1.9M44.78 245.20v-1.9M53.03 122.90v3.0M53.03 245.20v-3.0M61.54 122.90v1.9M61.54 245.20v-1.9M70.06 122.90v3.0M70.06 245.20v-3.0M78.31 122.90v1.9M78.31 245.20v-1.9M86.83 122.90v3.0M86.83 245.20v-3.0M95.07 122.90v1.9M95.07 245.20v-1.9M103.59 122.90v3.0M103.59 245.20v-3.0M112.11 122.90v1.9M112.11 245.20v-1.9M119.80 122.90v3.0M119.80 245.20v-3.0M128.32 122.90v1.9M128.32 245.20v-1.9M136.56 122.90v3.0M136.56 245.20v-3.0M145.08 122.90v1.9M145.08 245.20v-1.9M153.33 122.90v3.0M153.33 245.20v-3.0M161.85 122.90v1.9M161.85 245.20v-1.9M170.37 122.90v3.0M170.37 245.20v-3.0M13.25 245.20h3.0M13.25 240.58h1.9M13.25 235.97h1.9M13.25 231.35h1.9M13.25 226.74h1.9M13.25 222.12h3.0M13.25 217.51h1.9M13.25 212.89h1.9M13.25 208.28h1.9M13.25 203.66h1.9M13.25 199.05h3.0M13.25 194.43h1.9M13.25 189.82h1.9M13.25 185.20h1.9M13.25 180.59h1.9M13.25 175.97h3.0M13.25 171.36h1.9M13.25 166.74h1.9M13.25 162.13h1.9M13.25 157.51h1.9M13.25 152.90h3.0M13.25 148.28h1.9M13.25 143.67h1.9M13.25 139.05h1.9M13.25 134.44h1.9M13.25 129.82h3.0M13.25 125.21h1.9M177.59 245.20h-3.0M177.59 241.05h-1.9M177.59 236.91h-1.9M177.59 232.76h-1.9M177.59 228.62h-1.9M177.59 224.47h-3.0M177.59 220.33h-1.9M177.59 216.18h-1.9M177.59 212.03h-1.9M177.59 207.89h-1.9M177.59 203.74h-3.0M177.59 199.60h-1.9M177.59 195.45h-1.9M177.59 191.31h-1.9M177.59 187.16h-1.9M177.59 183.01h-3.0M177.59 178.87h-1.9M177.59 174.72h-1.9M177.59 170.58h-1.9M177.59 166.43h-1.9M177.59 162.28h-3.0M177.59 158.14h-1.9M177.59 153.99h-1.9M177.59 149.85h-1.9M177.59 145.70h-1.9M177.59 141.56h-3.0M177.59 137.41h-1.9M177.59 133.26h-1.9M177.59 129.12h-1.9M177.59 124.97h-1.9M183.84 122.90v3.0M183.84 245.20v-3.0M192.36 122.90v1.9M192.36 245.20v-1.9M200.60 122.90v3.0M200.60 245.20v-3.0M209.12 122.90v1.9M209.12 245.20v-1.9M217.36 122.90v3.0M217.36 245.20v-3.0M225.88 122.90v1.9M225.88 245.20v-1.9M234.40 122.90v3.0M234.40 245.20v-3.0M242.64 122.90v1.9M242.64 245.20v-1.9M251.16 122.90v3.0M251.16 245.20v-3.0M259.41 122.90v1.9M259.41 245.20v-1.9M267.93 122.90v3.0M267.93 245.20v-3.0M276.45 122.90v1.9M276.45 245.20v-1.9M284.14 122.90v3.0M284.14 245.20v-3.0M292.66 122.90v1.9M292.66 245.20v-1.9M300.90 122.90v3.0M300.90 245.20v-3.0M309.42 122.90v1.9M309.42 245.20v-1.9M317.67 122.90v3.0M317.67 245.20v-3.0M326.18 122.90v1.9M326.18 245.20v-1.9M334.70 122.90v3.0M334.70 245.20v-3.0M177.59 245.20h3.0M177.59 240.58h1.9M177.59 235.97h1.9M177.59 231.35h1.9M177.59 226.74h1.9M177.59 222.12h3.0M177.59 217.51h1.9M177.59 212.89h1.9M177.59 208.28h1.9M177.59 203.66h1.9M177.59 199.05h3.0M177.59 194.43h1.9M177.59 189.82h1.9M177.59 185.20h1.9M177.59 180.59h1.9M177.59 175.97h3.0M177.59 171.36h1.9M177.59 166.74h1.9M177.59 162.13h1.9M177.59 157.51h1.9M177.59 152.90h3.0M177.59 148.28h1.9M177.59 143.67h1.9M177.59 139.05h1.9M177.59 134.44h1.9M177.59 129.82h3.0M177.59 125.21h1.9M341.93 245.20h-3.0M341.93 241.05h-1.9M341.93 236.91h-1.9M341.93 232.76h-1.9M341.93 228.62h-1.9M341.93 224.47h-3.0M341.93 220.33h-1.9M341.93 216.18h-1.9M341.93 212.03h-1.9M341.93 207.89h-1.9M341.93 203.74h-3.0M341.93 199.60h-1.9M341.93 195.45h-1.9M341.93 191.31h-1.9M341.93 187.16h-1.9M341.93 183.01h-3.0M341.93 178.87h-1.9M341.93 174.72h-1.9M341.93 170.58h-1.9M341.93 166.43h-1.9M341.93 162.28h-3.0M341.93 158.14h-1.9M341.93 153.99h-1.9M341.93 149.85h-1.9M341.93 145.70h-1.9M341.93 141.56h-3.0M341.93 137.41h-1.9M341.93 133.26h-1.9M341.93 129.12h-1.9M341.93 124.97h-1.9M348.18 122.90v3.0M348.18 245.20v-3.0M356.69 122.90v1.9M356.69 245.20v-1.9M364.94 122.90v3.0M364.94 245.20v-3.0M373.46 122.90v1.9M373.46 245.20v-1.9M381.70 122.90v3.0M381.70 245.20v-3.0M390.22 122.90v1.9M390.22 245.20v-1.9M398.74 122.90v3.0M398.74 245.20v-3.0M406.98 122.90v1.9M406.98 245.20v-1.9M415.50 122.90v3.0M415.50 245.20v-3.0M423.75 122.90v1.9M423.75 245.20v-1.9M432.26 122.90v3.0M432.26 245.20v-3.0M440.78 122.90v1.9M440.78 245.20v-1.9M448.48 122.90v3.0M448.48 245.20v-3.0M457.00 122.90v1.9M457.00 245.20v-1.9M465.24 122.90v3.0M465.24 245.20v-3.0M473.76 122.90v1.9M473.76 245.20v-1.9M482.00 122.90v3.0M482.00 245.20v-3.0M490.52 122.90v1.9M490.52 245.20v-1.9M499.04 122.90v3.0M499.04 245.20v-3.0M341.93 245.20h3.0M341.93 240.58h1.9M341.93 235.97h1.9M341.93 231.35h1.9M341.93 226.74h1.9M341.93 222.12h3.0M341.93 217.51h1.9M341.93 212.89h1.9M341.93 208.28h1.9M341.93 203.66h1.9M341.93 199.05h3.0M341.93 194.43h1.9M341.93 189.82h1.9M341.93 185.20h1.9M341.93 180.59h1.9M341.93 175.97h3.0M341.93 171.36h1.9M341.93 166.74h1.9M341.93 162.13h1.9M341.93 157.51h1.9M341.93 152.90h3.0M341.93 148.28h1.9M341.93 143.67h1.9M341.93 139.05h1.9M341.93 134.44h1.9M341.93 129.82h3.0M341.93 125.21h1.9M506.26 245.20h-3.0M506.26 241.05h-1.9M506.26 236.91h-1.9M506.26 232.76h-1.9M506.26 228.62h-1.9M506.26 224.47h-3.0M506.26 220.33h-1.9M506.26 216.18h-1.9M506.26 212.03h-1.9M506.26 207.89h-1.9M506.26 203.74h-3.0M506.26 199.60h-1.9M506.26 195.45h-1.9M506.26 191.31h-1.9M506.26 187.16h-1.9M506.26 183.01h-3.0M506.26 178.87h-1.9M506.26 174.72h-1.9M506.26 170.58h-1.9M506.26 166.43h-1.9M506.26 162.28h-3.0M506.26 158.14h-1.9M506.26 153.99h-1.9M506.26 149.85h-1.9M506.26 145.70h-1.9M506.26 141.56h-3.0M506.26 137.41h-1.9M506.26 133.26h-1.9M506.26 129.12h-1.9M506.26 124.97h-1.9M512.51 122.90v3.0M512.51 245.20v-3.0M521.03 122.90v1.9M521.03 245.20v-1.9M529.28 122.90v3.0M529.28 245.20v-3.0M537.79 122.90v1.9M537.79 245.20v-1.9M546.04 122.90v3.0M546.04 245.20v-3.0M554.56 122.90v1.9M554.56 245.20v-1.9M563.08 122.90v3.0M563.08 245.20v-3.0M571.32 122.90v1.9M571.32 245.20v-1.9M579.84 122.90v3.0M579.84 245.20v-3.0M588.08 122.90v1.9M588.08 245.20v-1.9M596.60 122.90v3.0M596.60 245.20v-3.0M605.12 122.90v1.9M605.12 245.20v-1.9M612.81 122.90v3.0M612.81 245.20v-3.0M621.33 122.90v1.9M621.33 245.20v-1.9M629.58 122.90v3.0M629.58 245.20v-3.0M638.10 122.90v1.9M638.10 245.20v-1.9M646.34 122.90v3.0M646.34 245.20v-3.0M654.86 122.90v1.9M654.86 245.20v-1.9M663.38 122.90v3.0M663.38 245.20v-3.0M506.26 245.20h3.0M506.26 240.58h1.9M506.26 235.97h1.9M506.26 231.35h1.9M506.26 226.74h1.9M506.26 222.12h3.0M506.26 217.51h1.9M506.26 212.89h1.9M506.26 208.28h1.9M506.26 203.66h1.9M506.26 199.05h3.0M506.26 194.43h1.9M506.26 189.82h1.9M506.26 185.20h1.9M506.26 180.59h1.9M506.26 175.97h3.0M506.26 171.36h1.9M506.26 166.74h1.9M506.26 162.13h1.9M506.26 157.51h1.9M506.26 152.90h3.0M506.26 148.28h1.9M506.26 143.67h1.9M506.26 139.05h1.9M506.26 134.44h1.9M506.26 129.82h3.0M506.26 125.21h1.9M670.60 245.20h-3.0M670.60 241.05h-1.9M670.60 236.91h-1.9M670.60 232.76h-1.9M670.60 228.62h-1.9M670.60 224.47h-3.0M670.60 220.33h-1.9M670.60 216.18h-1.9M670.60 212.03h-1.9M670.60 207.89h-1.9M670.60 203.74h-3.0M670.60 199.60h-1.9M670.60 195.45h-1.9M670.60 191.31h-1.9M670.60 187.16h-1.9M670.60 183.01h-3.0M670.60 178.87h-1.9M670.60 174.72h-1.9M670.60 170.58h-1.9M670.60 166.43h-1.9M670.60 162.28h-3.0M670.60 158.14h-1.9M670.60 153.99h-1.9M670.60 149.85h-1.9M670.60 145.70h-1.9M670.60 141.56h-3.0M670.60 137.41h-1.9M670.60 133.26h-1.9M670.60 129.12h-1.9M670.60 124.97h-1.9M19.50 245.20v3.0M19.50 367.50v-3.0M28.02 245.20v1.9M28.02 367.50v-1.9M36.26 245.20v3.0M36.26 367.50v-3.0M44.78 245.20v1.9M44.78 367.50v-1.9M53.03 245.20v3.0M53.03 367.50v-3.0M61.54 245.20v1.9M61.54 367.50v-1.9M70.06 245.20v3.0M70.06 367.50v-3.0M78.31 245.20v1.9M78.31 367.50v-1.9M86.83 245.20v3.0M86.83 367.50v-3.0M95.07 245.20v1.9M95.07 367.50v-1.9M103.59 245.20v3.0M103.59 367.50v-3.0M112.11 245.20v1.9M112.11 367.50v-1.9M119.80 245.20v3.0M119.80 367.50v-3.0M128.32 245.20v1.9M128.32 367.50v-1.9M136.56 245.20v3.0M136.56 367.50v-3.0M145.08 245.20v1.9M145.08 367.50v-1.9M153.33 245.20v3.0M153.33 367.50v-3.0M161.85 245.20v1.9M161.85 367.50v-1.9M170.37 245.20v3.0M170.37 367.50v-3.0M13.25 367.50h3.0M13.25 362.88h1.9M13.25 358.27h1.9M13.25 353.65h1.9M13.25 349.04h1.9M13.25 344.42h3.0M13.25 339.81h1.9M13.25 335.19h1.9M13.25 330.58h1.9M13.25 325.96h1.9M13.25 321.35h3.0M13.25 316.73h1.9M13.25 312.12h1.9M13.25 307.50h1.9M13.25 302.89h1.9M13.25 298.27h3.0M13.25 293.66h1.9M13.25 289.04h1.9M13.25 284.43h1.9M13.25 279.81h1.9M13.25 275.20h3.0M13.25 270.58h1.9M13.25 265.97h1.9M13.25 261.35h1.9M13.25 256.74h1.9M13.25 252.12h3.0M13.25 247.51h1.9M177.59 367.50h-3.0M177.59 363.35h-1.9M177.59 359.21h-1.9M177.59 355.06h-1.9M177.59 350.92h-1.9M177.59 346.77h-3.0M177.59 342.63h-1.9M177.59 338.48h-1.9M177.59 334.33h-1.9M177.59 330.19h-1.9M177.59 326.04h-3.0M177.59 321.90h-1.9M177.59 317.75h-1.9M177.59 313.61h-1.9M177.59 309.46h-1.9M177.59 305.31h-3.0M177.59 301.17h-1.9M177.59 297.02h-1.9M177.59 292.88h-1.9M177.59 288.73h-1.9M177.59 284.58h-3.0M177.59 280.44h-1.9M177.59 276.29h-1.9M177.59 272.15h-1.9M177.59 268.00h-1.9M177.59 263.86h-3.0M177.59 259.71h-1.9M177.59 255.56h-1.9M177.59 251.42h-1.9M177.59 247.27h-1.9M183.84 245.20v3.0M183.84 367.50v-3.0M192.36 245.20v1.9M192.36 367.50v-1.9M200.60 245.20v3.0M200.60 367.50v-3.0M209.12 245.20v1.9M209.12 367.50v-1.9M217.36 245.20v3.0M217.36 367.50v-3.0M225.88 245.20v1.9M225.88 367.50v-1.9M234.40 245.20v3.0M234.40 367.50v-3.0M242.64 245.20v1.9M242.64 367.50v-1.9M251.16 245.20v3.0M251.16 367.50v-3.0M259.41 245.20v1.9M259.41 367.50v-1.9M267.93 245.20v3.0M267.93 367.50v-3.0M276.45 245.20v1.9M276.45 367.50v-1.9M284.14 245.20v3.0M284.14 367.50v-3.0M292.66 245.20v1.9M292.66 367.50v-1.9M300.90 245.20v3.0M300.90 367.50v-3.0M309.42 245.20v1.9M309.42 367.50v-1.9M317.67 245.20v3.0M317.67 367.50v-3.0M326.18 245.20v1.9M326.18 367.50v-1.9M334.70 245.20v3.0M334.70 367.50v-3.0M177.59 367.50h3.0M177.59 362.88h1.9M177.59 358.27h1.9M177.59 353.65h1.9M177.59 349.04h1.9M177.59 344.42h3.0M177.59 339.81h1.9M177.59 335.19h1.9M177.59 330.58h1.9M177.59 325.96h1.9M177.59 321.35h3.0M177.59 316.73h1.9M177.59 312.12h1.9M177.59 307.50h1.9M177.59 302.89h1.9M177.59 298.27h3.0M177.59 293.66h1.9M177.59 289.04h1.9M177.59 284.43h1.9M177.59 279.81h1.9M177.59 275.20h3.0M177.59 270.58h1.9M177.59 265.97h1.9M177.59 261.35h1.9M177.59 256.74h1.9M177.59 252.12h3.0M177.59 247.51h1.9M341.93 367.50h-3.0M341.93 363.35h-1.9M341.93 359.21h-1.9M341.93 355.06h-1.9M341.93 350.92h-1.9M341.93 346.77h-3.0M341.93 342.63h-1.9M341.93 338.48h-1.9M341.93 334.33h-1.9M341.93 330.19h-1.9M341.93 326.04h-3.0M341.93 321.90h-1.9M341.93 317.75h-1.9M341.93 313.61h-1.9M341.93 309.46h-1.9M341.93 305.31h-3.0M341.93 301.17h-1.9M341.93 297.02h-1.9M341.93 292.88h-1.9M341.93 288.73h-1.9M341.93 284.58h-3.0M341.93 280.44h-1.9M341.93 276.29h-1.9M341.93 272.15h-1.9M341.93 268.00h-1.9M341.93 263.86h-3.0M341.93 259.71h-1.9M341.93 255.56h-1.9M341.93 251.42h-1.9M341.93 247.27h-1.9M348.18 245.20v3.0M348.18 367.50v-3.0M356.69 245.20v1.9M356.69 367.50v-1.9M364.94 245.20v3.0M364.94 367.50v-3.0M373.46 245.20v1.9M373.46 367.50v-1.9M381.70 245.20v3.0M381.70 367.50v-3.0M390.22 245.20v1.9M390.22 367.50v-1.9M398.74 245.20v3.0M398.74 367.50v-3.0M406.98 245.20v1.9M406.98 367.50v-1.9M415.50 245.20v3.0M415.50 367.50v-3.0M423.75 245.20v1.9M423.75 367.50v-1.9M432.26 245.20v3.0M432.26 367.50v-3.0M440.78 245.20v1.9M440.78 367.50v-1.9M448.48 245.20v3.0M448.48 367.50v-3.0M457.00 245.20v1.9M457.00 367.50v-1.9M465.24 245.20v3.0M465.24 367.50v-3.0M473.76 245.20v1.9M473.76 367.50v-1.9M482.00 245.20v3.0M482.00 367.50v-3.0M490.52 245.20v1.9M490.52 367.50v-1.9M499.04 245.20v3.0M499.04 367.50v-3.0M341.93 367.50h3.0M341.93 362.88h1.9M341.93 358.27h1.9M341.93 353.65h1.9M341.93 349.04h1.9M341.93 344.42h3.0M341.93 339.81h1.9M341.93 335.19h1.9M341.93 330.58h1.9M341.93 325.96h1.9M341.93 321.35h3.0M341.93 316.73h1.9M341.93 312.12h1.9M341.93 307.50h1.9M341.93 302.89h1.9M341.93 298.27h3.0M341.93 293.66h1.9M341.93 289.04h1.9M341.93 284.43h1.9M341.93 279.81h1.9M341.93 275.20h3.0M341.93 270.58h1.9M341.93 265.97h1.9M341.93 261.35h1.9M341.93 256.74h1.9M341.93 252.12h3.0M341.93 247.51h1.9M506.26 367.50h-3.0M506.26 363.35h-1.9M506.26 359.21h-1.9M506.26 355.06h-1.9M506.26 350.92h-1.9M506.26 346.77h-3.0M506.26 342.63h-1.9M506.26 338.48h-1.9M506.26 334.33h-1.9M506.26 330.19h-1.9M506.26 326.04h-3.0M506.26 321.90h-1.9M506.26 317.75h-1.9M506.26 313.61h-1.9M506.26 309.46h-1.9M506.26 305.31h-3.0M506.26 301.17h-1.9M506.26 297.02h-1.9M506.26 292.88h-1.9M506.26 288.73h-1.9M506.26 284.58h-3.0M506.26 280.44h-1.9M506.26 276.29h-1.9M506.26 272.15h-1.9M506.26 268.00h-1.9M506.26 263.86h-3.0M506.26 259.71h-1.9M506.26 255.56h-1.9M506.26 251.42h-1.9M506.26 247.27h-1.9M512.51 245.20v3.0M512.51 367.50v-3.0M521.03 245.20v1.9M521.03 367.50v-1.9M529.28 245.20v3.0M529.28 367.50v-3.0M537.79 245.20v1.9M537.79 367.50v-1.9M546.04 245.20v3.0M546.04 367.50v-3.0M554.56 245.20v1.9M554.56 367.50v-1.9M563.08 245.20v3.0M563.08 367.50v-3.0M571.32 245.20v1.9M571.32 367.50v-1.9M579.84 245.20v3.0M579.84 367.50v-3.0M588.08 245.20v1.9M588.08 367.50v-1.9M596.60 245.20v3.0M596.60 367.50v-3.0M605.12 245.20v1.9M605.12 367.50v-1.9M612.81 245.20v3.0M612.81 367.50v-3.0M621.33 245.20v1.9M621.33 367.50v-1.9M629.58 245.20v3.0M629.58 367.50v-3.0M638.10 245.20v1.9M638.10 367.50v-1.9M646.34 245.20v3.0M646.34 367.50v-3.0M654.86 245.20v1.9M654.86 367.50v-1.9M663.38 245.20v3.0M663.38 367.50v-3.0M506.26 367.50h3.0M506.26 362.88h1.9M506.26 358.27h1.9M506.26 353.65h1.9M506.26 349.04h1.9M506.26 344.42h3.0M506.26 339.81h1.9M506.26 335.19h1.9M506.26 330.58h1.9M506.26 325.96h1.9M506.26 321.35h3.0M506.26 316.73h1.9M506.26 312.12h1.9M506.26 307.50h1.9M506.26 302.89h1.9M506.26 298.27h3.0M506.26 293.66h1.9M506.26 289.04h1.9M506.26 284.43h1.9M506.26 279.81h1.9M506.26 275.20h3.0M506.26 270.58h1.9M506.26 265.97h1.9M506.26 261.35h1.9M506.26 256.74h1.9M506.26 252.12h3.0M506.26 247.51h1.9M670.60 367.50h-3.0M670.60 363.35h-1.9M670.60 359.21h-1.9M670.60 355.06h-1.9M670.60 350.92h-1.9M670.60 346.77h-3.0M670.60 342.63h-1.9M670.60 338.48h-1.9M670.60 334.33h-1.9M670.60 330.19h-1.9M670.60 326.04h-3.0M670.60 321.90h-1.9M670.60 317.75h-1.9M670.60 313.61h-1.9M670.60 309.46h-1.9M670.60 305.31h-3.0M670.60 301.17h-1.9M670.60 297.02h-1.9M670.60 292.88h-1.9M670.60 288.73h-1.9M670.60 284.58h-3.0M670.60 280.44h-1.9M670.60 276.29h-1.9M670.60 272.15h-1.9M670.60 268.00h-1.9M670.60 263.86h-3.0M670.60 259.71h-1.9M670.60 255.56h-1.9M670.60 251.42h-1.9M670.60 247.27h-1.9M19.50 367.50v3.0M19.50 489.80v-3.0M28.02 367.50v1.9M28.02 489.80v-1.9M36.26 367.50v3.0M36.26 489.80v-3.0M44.78 367.50v1.9M44.78 489.80v-1.9M53.03 367.50v3.0M53.03 489.80v-3.0M61.54 367.50v1.9M61.54 489.80v-1.9M70.06 367.50v3.0M70.06 489.80v-3.0M78.31 367.50v1.9M78.31 489.80v-1.9M86.83 367.50v3.0M86.83 489.80v-3.0M95.07 367.50v1.9M95.07 489.80v-1.9M103.59 367.50v3.0M103.59 489.80v-3.0M112.11 367.50v1.9M112.11 489.80v-1.9M119.80 367.50v3.0M119.80 489.80v-3.0M128.32 367.50v1.9M128.32 489.80v-1.9M136.56 367.50v3.0M136.56 489.80v-3.0M145.08 367.50v1.9M145.08 489.80v-1.9M153.33 367.50v3.0M153.33 489.80v-3.0M161.85 367.50v1.9M161.85 489.80v-1.9M170.37 367.50v3.0M170.37 489.80v-3.0M13.25 489.80h3.0M13.25 485.18h1.9M13.25 480.57h1.9M13.25 475.95h1.9M13.25 471.34h1.9M13.25 466.72h3.0M13.25 462.11h1.9M13.25 457.49h1.9M13.25 452.88h1.9M13.25 448.26h1.9M13.25 443.65h3.0M13.25 439.03h1.9M13.25 434.42h1.9M13.25 429.80h1.9M13.25 425.19h1.9M13.25 420.57h3.0M13.25 415.96h1.9M13.25 411.34h1.9M13.25 406.73h1.9M13.25 402.11h1.9M13.25 397.50h3.0M13.25 392.88h1.9M13.25 388.27h1.9M13.25 383.65h1.9M13.25 379.04h1.9M13.25 374.42h3.0M13.25 369.81h1.9M177.59 489.80h-3.0M177.59 485.65h-1.9M177.59 481.51h-1.9M177.59 477.36h-1.9M177.59 473.22h-1.9M177.59 469.07h-3.0M177.59 464.93h-1.9M177.59 460.78h-1.9M177.59 456.63h-1.9M177.59 452.49h-1.9M177.59 448.34h-3.0M177.59 444.20h-1.9M177.59 440.05h-1.9M177.59 435.91h-1.9M177.59 431.76h-1.9M177.59 427.61h-3.0M177.59 423.47h-1.9M177.59 419.32h-1.9M177.59 415.18h-1.9M177.59 411.03h-1.9M177.59 406.88h-3.0M177.59 402.74h-1.9M177.59 398.59h-1.9M177.59 394.45h-1.9M177.59 390.30h-1.9M177.59 386.16h-3.0M177.59 382.01h-1.9M177.59 377.86h-1.9M177.59 373.72h-1.9M177.59 369.57h-1.9M183.84 367.50v3.0M183.84 489.80v-3.0M192.36 367.50v1.9M192.36 489.80v-1.9M200.60 367.50v3.0M200.60 489.80v-3.0M209.12 367.50v1.9M209.12 489.80v-1.9M217.36 367.50v3.0M217.36 489.80v-3.0M225.88 367.50v1.9M225.88 489.80v-1.9M234.40 367.50v3.0M234.40 489.80v-3.0M242.64 367.50v1.9M242.64 489.80v-1.9M251.16 367.50v3.0M251.16 489.80v-3.0M259.41 367.50v1.9M259.41 489.80v-1.9M267.93 367.50v3.0M267.93 489.80v-3.0M276.45 367.50v1.9M276.45 489.80v-1.9M284.14 367.50v3.0M284.14 489.80v-3.0M292.66 367.50v1.9M292.66 489.80v-1.9M300.90 367.50v3.0M300.90 489.80v-3.0M309.42 367.50v1.9M309.42 489.80v-1.9M317.67 367.50v3.0M317.67 489.80v-3.0M326.18 367.50v1.9M326.18 489.80v-1.9M334.70 367.50v3.0M334.70 489.80v-3.0M177.59 489.80h3.0M177.59 485.18h1.9M177.59 480.57h1.9M177.59 475.95h1.9M177.59 471.34h1.9M177.59 466.72h3.0M177.59 462.11h1.9M177.59 457.49h1.9M177.59 452.88h1.9M177.59 448.26h1.9M177.59 443.65h3.0M177.59 439.03h1.9M177.59 434.42h1.9M177.59 429.80h1.9M177.59 425.19h1.9M177.59 420.57h3.0M177.59 415.96h1.9M177.59 411.34h1.9M177.59 406.73h1.9M177.59 402.11h1.9M177.59 397.50h3.0M177.59 392.88h1.9M177.59 388.27h1.9M177.59 383.65h1.9M177.59 379.04h1.9M177.59 374.42h3.0M177.59 369.81h1.9M341.93 489.80h-3.0M341.93 485.65h-1.9M341.93 481.51h-1.9M341.93 477.36h-1.9M341.93 473.22h-1.9M341.93 469.07h-3.0M341.93 464.93h-1.9M341.93 460.78h-1.9M341.93 456.63h-1.9M341.93 452.49h-1.9M341.93 448.34h-3.0M341.93 444.20h-1.9M341.93 440.05h-1.9M341.93 435.91h-1.9M341.93 431.76h-1.9M341.93 427.61h-3.0M341.93 423.47h-1.9M341.93 419.32h-1.9M341.93 415.18h-1.9M341.93 411.03h-1.9M341.93 406.88h-3.0M341.93 402.74h-1.9M341.93 398.59h-1.9M341.93 394.45h-1.9M341.93 390.30h-1.9M341.93 386.16h-3.0M341.93 382.01h-1.9M341.93 377.86h-1.9M341.93 373.72h-1.9M341.93 369.57h-1.9M348.18 367.50v3.0M348.18 489.80v-3.0M356.69 367.50v1.9M356.69 489.80v-1.9M364.94 367.50v3.0M364.94 489.80v-3.0M373.46 367.50v1.9M373.46 489.80v-1.9M381.70 367.50v3.0M381.70 489.80v-3.0M390.22 367.50v1.9M390.22 489.80v-1.9M398.74 367.50v3.0M398.74 489.80v-3.0M406.98 367.50v1.9M406.98 489.80v-1.9M415.50 367.50v3.0M415.50 489.80v-3.0M423.75 367.50v1.9M423.75 489.80v-1.9M432.26 367.50v3.0M432.26 489.80v-3.0M440.78 367.50v1.9M440.78 489.80v-1.9M448.48 367.50v3.0M448.48 489.80v-3.0M457.00 367.50v1.9M457.00 489.80v-1.9M465.24 367.50v3.0M465.24 489.80v-3.0M473.76 367.50v1.9M473.76 489.80v-1.9M482.00 367.50v3.0M482.00 489.80v-3.0M490.52 367.50v1.9M490.52 489.80v-1.9M499.04 367.50v3.0M499.04 489.80v-3.0M341.93 489.80h3.0M341.93 485.18h1.9M341.93 480.57h1.9M341.93 475.95h1.9M341.93 471.34h1.9M341.93 466.72h3.0M341.93 462.11h1.9M341.93 457.49h1.9M341.93 452.88h1.9M341.93 448.26h1.9M341.93 443.65h3.0M341.93 439.03h1.9M341.93 434.42h1.9M341.93 429.80h1.9M341.93 425.19h1.9M341.93 420.57h3.0M341.93 415.96h1.9M341.93 411.34h1.9M341.93 406.73h1.9M341.93 402.11h1.9M341.93 397.50h3.0M341.93 392.88h1.9M341.93 388.27h1.9M341.93 383.65h1.9M341.93 379.04h1.9M341.93 374.42h3.0M341.93 369.81h1.9M506.26 489.80h-3.0M506.26 485.65h-1.9M506.26 481.51h-1.9M506.26 477.36h-1.9M506.26 473.22h-1.9M506.26 469.07h-3.0M506.26 464.93h-1.9M506.26 460.78h-1.9M506.26 456.63h-1.9M506.26 452.49h-1.9M506.26 448.34h-3.0M506.26 444.20h-1.9M506.26 440.05h-1.9M506.26 435.91h-1.9M506.26 431.76h-1.9M506.26 427.61h-3.0M506.26 423.47h-1.9M506.26 419.32h-1.9M506.26 415.18h-1.9M506.26 411.03h-1.9M506.26 406.88h-3.0M506.26 402.74h-1.9M506.26 398.59h-1.9M506.26 394.45h-1.9M506.26 390.30h-1.9M506.26 386.16h-3.0M506.26 382.01h-1.9M506.26 377.86h-1.9M506.26 373.72h-1.9M506.26 369.57h-1.9M512.51 367.50v3.0M512.51 489.80v-3.0M521.03 367.50v1.9M521.03 489.80v-1.9M529.28 367.50v3.0M529.28 489.80v-3.0M537.79 367.50v1.9M537.79 489.80v-1.9M546.04 367.50v3.0M546.04 489.80v-3.0M554.56 367.50v1.9M554.56 489.80v-1.9M563.08 367.50v3.0M563.08 489.80v-3.0M571.32 367.50v1.9M571.32 489.80v-1.9M579.84 367.50v3.0M579.84 489.80v-3.0M588.08 367.50v1.9M588.08 489.80v-1.9M596.60 367.50v3.0M596.60 489.80v-3.0M605.12 367.50v1.9M605.12 489.80v-1.9M612.81 367.50v3.0M612.81 489.80v-3.0M621.33 367.50v1.9M621.33 489.80v-1.9M629.58 367.50v3.0M629.58 489.80v-3.0M638.10 367.50v1.9M638.10 489.80v-1.9M646.34 367.50v3.0M646.34 489.80v-3.0M654.86 367.50v1.9M654.86 489.80v-1.9M663.38 367.50v3.0M663.38 489.80v-3.0M506.26 489.80h3.0M506.26 485.18h1.9M506.26 480.57h1.9M506.26 475.95h1.9M506.26 471.34h1.9M506.26 466.72h3.0M506.26 462.11h1.9M506.26 457.49h1.9M506.26 452.88h1.9M506.26 448.26h1.9M506.26 443.65h3.0M506.26 439.03h1.9M506.26 434.42h1.9M506.26 429.80h1.9M506.26 425.19h1.9M506.26 420.57h3.0M506.26 415.96h1.9M506.26 411.34h1.9M506.26 406.73h1.9M506.26 402.11h1.9M506.26 397.50h3.0M506.26 392.88h1.9M506.26 388.27h1.9M506.26 383.65h1.9M506.26 379.04h1.9M506.26 374.42h3.0M506.26 369.81h1.9M670.60 489.80h-3.0M670.60 485.65h-1.9M670.60 481.51h-1.9M670.60 477.36h-1.9M670.60 473.22h-1.9M670.60 469.07h-3.0M670.60 464.93h-1.9M670.60 460.78h-1.9M670.60 456.63h-1.9M670.60 452.49h-1.9M670.60 448.34h-3.0M670.60 444.20h-1.9M670.60 440.05h-1.9M670.60 435.91h-1.9M670.60 431.76h-1.9M670.60 427.61h-3.0M670.60 423.47h-1.9M670.60 419.32h-1.9M670.60 415.18h-1.9M670.60 411.03h-1.9M670.60 406.88h-3.0M670.60 402.74h-1.9M670.60 398.59h-1.9M670.60 394.45h-1.9M670.60 390.30h-1.9M670.60 386.16h-3.0M670.60 382.01h-1.9M670.60 377.86h-1.9M670.60 373.72h-1.9M670.60 369.57h-1.9" stroke="#000" stroke-width="1.1" fill="none"/>
<path d="M177.59 -0.05V490.45M341.93 -0.05V490.45M506.26 -0.05V490.45M12.60 122.90H671.25M12.60 245.20H671.25M12.60 367.50H671.25" stroke="#000" stroke-width="1.5" fill="none"/>
<path d="M13.25 -0.05V490.45M670.60 -0.05V490.45M12.60 0.60H671.25M12.60 489.80H671.25" stroke="#000" stroke-width="1.3" fill="none"/>
<text transform="translate(11.6,123.0) rotate(-90) scale(1.15,1)" font-size="4.9" text-anchor="middle" fill="#444" font-family="Liberation Sans, sans-serif">0</text>
<text transform="translate(11.6,99.9) rotate(-90) scale(1.15,1)" font-size="4.9" text-anchor="middle" fill="#444" font-family="Liberation Sans, sans-serif">1</text>
<text transform="translate(11.6,76.8) rotate(-90) scale(1.15,1)" font-size="4.9" text-anchor="middle" fill="#444" font-family="Liberation Sans, sans-serif">2</text>
<text transform="translate(11.6,53.8) rotate(-90) scale(1.15,1)" font-size="4.9" text-anchor="middle" fill="#444" font-family="Liberation Sans, sans-serif">3</text>
<text transform="translate(11.6,30.7) rotate(-90) scale(1.15,1)" font-size="4.9" text-anchor="middle" fill="#444" font-family="Liberation Sans, sans-serif">4</text>
<text transform="translate(11.6,7.6) rotate(-90) scale(1.15,1)" font-size="4.9" text-anchor="middle" fill="#444" font-family="Liberation Sans, sans-serif">5</text>
<text transform="translate(4.6,62.2) rotate(-90) scale(0.864,1)" font-size="6.6" text-anchor="middle" fill="#222" font-family="Liberation Sans, sans-serif">P (t)</text>
<text transform="translate(672.3,125.1) scale(0.864,1)" font-size="6.6" fill="#444" font-family="Liberation Sans, sans-serif">0</text>
<text transform="translate(672.3,104.4) scale(0.864,1)" font-size="6.6" fill="#444" font-family="Liberation Sans, sans-serif">10</text>
<text transform="translate(672.3,83.6) scale(0.864,1)" font-size="6.6" fill="#444" font-family="Liberation Sans, sans-serif">20</text>
<text transform="translate(672.3,62.9) scale(0.864,1)" font-size="6.6" fill="#444" font-family="Liberation Sans, sans-serif">30</text>
<text transform="translate(672.3,42.2) scale(0.864,1)" font-size="6.6" fill="#444" font-family="Liberation Sans, sans-serif">40</text>
<text transform="translate(672.3,21.5) scale(0.864,1)" font-size="6.6" fill="#444" font-family="Liberation Sans, sans-serif">50</text>
<text transform="translate(685.5,61.8) rotate(-90) scale(0.864,1)" font-size="6.6" text-anchor="middle" fill="#333" font-family="Liberation Sans, sans-serif">NPI score</text>
<text transform="translate(11.6,245.3) rotate(-90) scale(1.15,1)" font-size="4.9" text-anchor="middle" fill="#444" font-family="Liberation Sans, sans-serif">0</text>
<text transform="translate(11.6,222.2) rotate(-90) scale(1.15,1)" font-size="4.9" text-anchor="middle" fill="#444" font-family="Liberation Sans, sans-serif">1</text>
<text transform="translate(11.6,199.1) rotate(-90) scale(1.15,1)" font-size="4.9" text-anchor="middle" fill="#444" font-family="Liberation Sans, sans-serif">2</text>
<text transform="translate(11.6,176.1) rotate(-90) scale(1.15,1)" font-size="4.9" text-anchor="middle" fill="#444" font-family="Liberation Sans, sans-serif">3</text>
<text transform="translate(11.6,153.0) rotate(-90) scale(1.15,1)" font-size="4.9" text-anchor="middle" fill="#444" font-family="Liberation Sans, sans-serif">4</text>
<text transform="translate(11.6,129.9) rotate(-90) scale(1.15,1)" font-size="4.9" text-anchor="middle" fill="#444" font-family="Liberation Sans, sans-serif">5</text>
<text transform="translate(4.6,184.5) rotate(-90) scale(0.864,1)" font-size="6.6" text-anchor="middle" fill="#222" font-family="Liberation Sans, sans-serif">P (t)</text>
<text transform="translate(672.3,247.4) scale(0.864,1)" font-size="6.6" fill="#444" font-family="Liberation Sans, sans-serif">0</text>
<text transform="translate(672.3,226.7) scale(0.864,1)" font-size="6.6" fill="#444" font-family="Liberation Sans, sans-serif">10</text>
<text transform="translate(672.3,205.9) scale(0.864,1)" font-size="6.6" fill="#444" font-family="Liberation Sans, sans-serif">20</text>
<text transform="translate(672.3,185.2) scale(0.864,1)" font-size="6.6" fill="#444" font-family="Liberation Sans, sans-serif">30</text>
<text transform="translate(672.3,164.5) scale(0.864,1)" font-size="6.6" fill="#444" font-family="Liberation Sans, sans-serif">40</text>
<text transform="translate(672.3,143.8) scale(0.864,1)" font-size="6.6" fill="#444" font-family="Liberation Sans, sans-serif">50</text>
<text transform="translate(685.5,184.0) rotate(-90) scale(0.864,1)" font-size="6.6" text-anchor="middle" fill="#333" font-family="Liberation Sans, sans-serif">NPI score</text>
<text transform="translate(11.6,367.6) rotate(-90) scale(1.15,1)" font-size="4.9" text-anchor="middle" fill="#444" font-family="Liberation Sans, sans-serif">0</text>
<text transform="translate(11.6,344.5) rotate(-90) scale(1.15,1)" font-size="4.9" text-anchor="middle" fill="#444" font-family="Liberation Sans, sans-serif">1</text>
<text transform="translate(11.6,321.4) rotate(-90) scale(1.15,1)" font-size="4.9" text-anchor="middle" fill="#444" font-family="Liberation Sans, sans-serif">2</text>
<text transform="translate(11.6,298.4) rotate(-90) scale(1.15,1)" font-size="4.9" text-anchor="middle" fill="#444" font-family="Liberation Sans, sans-serif">3</text>
<text transform="translate(11.6,275.3) rotate(-90) scale(1.15,1)" font-size="4.9" text-anchor="middle" fill="#444" font-family="Liberation Sans, sans-serif">4</text>
<text transform="translate(11.6,252.2) rotate(-90) scale(1.15,1)" font-size="4.9" text-anchor="middle" fill="#444" font-family="Liberation Sans, sans-serif">5</text>
<text transform="translate(4.6,306.8) rotate(-90) scale(0.864,1)" font-size="6.6" text-anchor="middle" fill="#222" font-family="Liberation Sans, sans-serif">P (t)</text>
<text transform="translate(672.3,369.7) scale(0.864,1)" font-size="6.6" fill="#444" font-family="Liberation Sans, sans-serif">0</text>
<text transform="translate(672.3,349.0) scale(0.864,1)" font-size="6.6" fill="#444" font-family="Liberation Sans, sans-serif">10</text>
<text transform="translate(672.3,328.2) scale(0.864,1)" font-size="6.6" fill="#444" font-family="Liberation Sans, sans-serif">20</text>
<text transform="translate(672.3,307.5) scale(0.864,1)" font-size="6.6" fill="#444" font-family="Liberation Sans, sans-serif">30</text>
<text transform="translate(672.3,286.8) scale(0.864,1)" font-size="6.6" fill="#444" font-family="Liberation Sans, sans-serif">40</text>
<text transform="translate(672.3,266.1) scale(0.864,1)" font-size="6.6" fill="#444" font-family="Liberation Sans, sans-serif">50</text>
<text transform="translate(685.5,306.3) rotate(-90) scale(0.864,1)" font-size="6.6" text-anchor="middle" fill="#333" font-family="Liberation Sans, sans-serif">NPI score</text>
<text transform="translate(11.6,489.9) rotate(-90) scale(1.15,1)" font-size="4.9" text-anchor="middle" fill="#444" font-family="Liberation Sans, sans-serif">0</text>
<text transform="translate(11.6,466.8) rotate(-90) scale(1.15,1)" font-size="4.9" text-anchor="middle" fill="#444" font-family="Liberation Sans, sans-serif">1</text>
<text transform="translate(11.6,443.7) rotate(-90) scale(1.15,1)" font-size="4.9" text-anchor="middle" fill="#444" font-family="Liberation Sans, sans-serif">2</text>
<text transform="translate(11.6,420.7) rotate(-90) scale(1.15,1)" font-size="4.9" text-anchor="middle" fill="#444" font-family="Liberation Sans, sans-serif">3</text>
<text transform="translate(11.6,397.6) rotate(-90) scale(1.15,1)" font-size="4.9" text-anchor="middle" fill="#444" font-family="Liberation Sans, sans-serif">4</text>
<text transform="translate(11.6,374.5) rotate(-90) scale(1.15,1)" font-size="4.9" text-anchor="middle" fill="#444" font-family="Liberation Sans, sans-serif">5</text>
<text transform="translate(4.6,429.1) rotate(-90) scale(0.864,1)" font-size="6.6" text-anchor="middle" fill="#222" font-family="Liberation Sans, sans-serif">P (t)</text>
<text transform="translate(672.3,492.0) scale(0.864,1)" font-size="6.6" fill="#444" font-family="Liberation Sans, sans-serif">0</text>
<text transform="translate(672.3,471.3) scale(0.864,1)" font-size="6.6" fill="#444" font-family="Liberation Sans, sans-serif">10</text>
<text transform="translate(672.3,450.5) scale(0.864,1)" font-size="6.6" fill="#444" font-family="Liberation Sans, sans-serif">20</text>
<text transform="translate(672.3,429.8) scale(0.864,1)" font-size="6.6" fill="#444" font-family="Liberation Sans, sans-serif">30</text>
<text transform="translate(672.3,409.1) scale(0.864,1)" font-size="6.6" fill="#444" font-family="Liberation Sans, sans-serif">40</text>
<text transform="translate(672.3,388.4) scale(0.864,1)" font-size="6.6" fill="#444" font-family="Liberation Sans, sans-serif">50</text>
<text transform="translate(685.5,428.6) rotate(-90) scale(0.864,1)" font-size="6.6" text-anchor="middle" fill="#333" font-family="Liberation Sans, sans-serif">NPI score</text>
<text transform="translate(19.5,496.1) scale(0.864,1)" font-size="6.6" text-anchor="middle" fill="#333" font-family="Liberation Sans, sans-serif">Mar</text>
<text transform="translate(36.3,496.1) scale(0.864,1)" font-size="6.6" text-anchor="middle" fill="#333" font-family="Liberation Sans, sans-serif">May</text>
<text transform="translate(53.0,496.1) scale(0.864,1)" font-size="6.6" text-anchor="middle" fill="#333" font-family="Liberation Sans, sans-serif">Jul</text>
<text transform="translate(70.1,496.1) scale(0.864,1)" font-size="6.6" text-anchor="middle" fill="#333" font-family="Liberation Sans, sans-serif">Sep</text>
<text transform="translate(86.8,496.1) scale(0.864,1)" font-size="6.6" text-anchor="middle" fill="#333" font-family="Liberation Sans, sans-serif">Nov</text>
<text transform="translate(103.6,496.1) scale(0.864,1)" font-size="6.6" text-anchor="middle" fill="#333" font-family="Liberation Sans, sans-serif">2021</text>
<text transform="translate(119.8,496.1) scale(0.864,1)" font-size="6.6" text-anchor="middle" fill="#333" font-family="Liberation Sans, sans-serif">Mar</text>
<text transform="translate(136.6,496.1) scale(0.864,1)" font-size="6.6" text-anchor="middle" fill="#333" font-family="Liberation Sans, sans-serif">May</text>
<text transform="translate(153.3,496.1) scale(0.864,1)" font-size="6.6" text-anchor="middle" fill="#333" font-family="Liberation Sans, sans-serif">Jul</text>
<text transform="translate(170.4,496.1) scale(0.864,1)" font-size="6.6" text-anchor="middle" fill="#333" font-family="Liberation Sans, sans-serif">Sep</text>
<text transform="translate(170.4,503.0) scale(0.864,1)" font-size="6.6" text-anchor="middle" fill="#333" font-family="Liberation Sans, sans-serif">2021</text>
<text transform="translate(96.4,503.0) scale(0.864,1)" font-size="6.6" text-anchor="middle" fill="#333" font-family="Liberation Sans, sans-serif">Date</text>
<text transform="translate(183.8,496.1) scale(0.864,1)" font-size="6.6" text-anchor="middle" fill="#333" font-family="Liberation Sans, sans-serif">Mar</text>
<text transform="translate(200.6,496.1) scale(0.864,1)" font-size="6.6" text-anchor="middle" fill="#333" font-family="Liberation Sans, sans-serif">May</text>
<text transform="translate(217.4,496.1) scale(0.864,1)" font-size="6.6" text-anchor="middle" fill="#333" font-family="Liberation Sans, sans-serif">Jul</text>
<text transform="translate(234.4,496.1) scale(0.864,1)" font-size="6.6" text-anchor="middle" fill="#333" font-family="Liberation Sans, sans-serif">Sep</text>
<text transform="translate(251.2,496.1) scale(0.864,1)" font-size="6.6" text-anchor="middle" fill="#333" font-family="Liberation Sans, sans-serif">Nov</text>
<text transform="translate(267.9,496.1) scale(0.864,1)" font-size="6.6" text-anchor="middle" fill="#333" font-family="Liberation Sans, sans-serif">2021</text>
<text transform="translate(284.1,496.1) scale(0.864,1)" font-size="6.6" text-anchor="middle" fill="#333" font-family="Liberation Sans, sans-serif">Mar</text>
<text transform="translate(300.9,496.1) scale(0.864,1)" font-size="6.6" text-anchor="middle" fill="#333" font-family="Liberation Sans, sans-serif">May</text>
<text transform="translate(317.7,496.1) scale(0.864,1)" font-size="6.6" text-anchor="middle" fill="#333" font-family="Liberation Sans, sans-serif">Jul</text>
<text transform="translate(334.7,496.1) scale(0.864,1)" font-size="6.6" text-anchor="middle" fill="#333" font-family="Liberation Sans, sans-serif">Sep</text>
<text transform="translate(334.7,503.0) scale(0.864,1)" font-size="6.6" text-anchor="middle" fill="#333" font-family="Liberation Sans, sans-serif">2021</text>
<text transform="translate(260.8,503.0) scale(0.864,1)" font-size="6.6" text-anchor="middle" fill="#333" font-family="Liberation Sans, sans-serif">Date</text>
<text transform="translate(348.2,496.1) scale(0.864,1)" font-size="6.6" text-anchor="middle" fill="#333" font-family="Liberation Sans, sans-serif">Mar</text>
<text transform="translate(364.9,496.1) scale(0.864,1)" font-size="6.6" text-anchor="middle" fill="#333" font-family="Liberation Sans, sans-serif">May</text>
<text transform="translate(381.7,496.1) scale(0.864,1)" font-size="6.6" text-anchor="middle" fill="#333" font-family="Liberation Sans, sans-serif">Jul</text>
<text transform="translate(398.7,496.1) scale(0.864,1)" font-size="6.6" text-anchor="middle" fill="#333" font-family="Liberation Sans, sans-serif">Sep</text>
<text transform="translate(415.5,496.1) scale(0.864,1)" font-size="6.6" text-anchor="middle" fill="#333" font-family="Liberation Sans, sans-serif">Nov</text>
<text transform="translate(432.3,496.1) scale(0.864,1)" font-size="6.6" text-anchor="middle" fill="#333" font-family="Liberation Sans, sans-serif">2021</text>
<text transform="translate(448.5,496.1) scale(0.864,1)" font-size="6.6" text-anchor="middle" fill="#333" font-family="Liberation Sans, sans-serif">Mar</text>
<text transform="translate(465.2,496.1) scale(0.864,1)" font-size="6.6" text-anchor="middle" fill="#333" font-family="Liberation Sans, sans-serif">May</text>
<text transform="translate(482.0,496.1) scale(0.864,1)" font-size="6.6" text-anchor="middle" fill="#333" font-family="Liberation Sans, sans-serif">Jul</text>
<text transform="translate(499.0,496.1) scale(0.864,1)" font-size="6.6" text-anchor="middle" fill="#333" font-family="Liberation Sans, sans-serif">Sep</text>
<text transform="translate(499.0,503.0) scale(0.864,1)" font-size="6.6" text-anchor="middle" fill="#333" font-family="Liberation Sans, sans-serif">2021</text>
<text transform="translate(425.1,503.0) scale(0.864,1)" font-size="6.6" text-anchor="middle" fill="#333" font-family="Liberation Sans, sans-serif">Date</text>
<text transform="translate(512.5,496.1) scale(0.864,1)" font-size="6.6" text-anchor="middle" fill="#333" font-family="Liberation Sans, sans-serif">Mar</text>
<text transform="translate(529.3,496.1) scale(0.864,1)" font-size="6.6" text-anchor="middle" fill="#333" font-family="Liberation Sans, sans-serif">May</text>
<text transform="translate(546.0,496.1) scale(0.864,1)" font-size="6.6" text-anchor="middle" fill="#333" font-family="Liberation Sans, sans-serif">Jul</text>
<text transform="translate(563.1,496.1) scale(0.864,1)" font-size="6.6" text-anchor="middle" fill="#333" font-family="Liberation Sans, sans-serif">Sep</text>
<text transform="translate(579.8,496.1) scale(0.864,1)" font-size="6.6" text-anchor="middle" fill="#333" font-family="Liberation Sans, sans-serif">Nov</text>
<text transform="translate(596.6,496.1) scale(0.864,1)" font-size="6.6" text-anchor="middle" fill="#333" font-family="Liberation Sans, sans-serif">2021</text>
<text transform="translate(612.8,496.1) scale(0.864,1)" font-size="6.6" text-anchor="middle" fill="#333" font-family="Liberation Sans, sans-serif">Mar</text>
<text transform="translate(629.6,496.1) scale(0.864,1)" font-size="6.6" text-anchor="middle" fill="#333" font-family="Liberation Sans, sans-serif">May</text>
<text transform="translate(646.3,496.1) scale(0.864,1)" font-size="6.6" text-anchor="middle" fill="#333" font-family="Liberation Sans, sans-serif">Jul</text>
<text transform="translate(663.4,496.1) scale(0.864,1)" font-size="6.6" text-anchor="middle" fill="#333" font-family="Liberation Sans, sans-serif">Sep</text>
<text transform="translate(663.4,503.0) scale(0.864,1)" font-size="6.6" text-anchor="middle" fill="#333" font-family="Liberation Sans, sans-serif">2021</text>
<text transform="translate(589.4,503.0) scale(0.864,1)" font-size="6.6" text-anchor="middle" fill="#333" font-family="Liberation Sans, sans-serif">Date</text>
</svg>
</body></html>
